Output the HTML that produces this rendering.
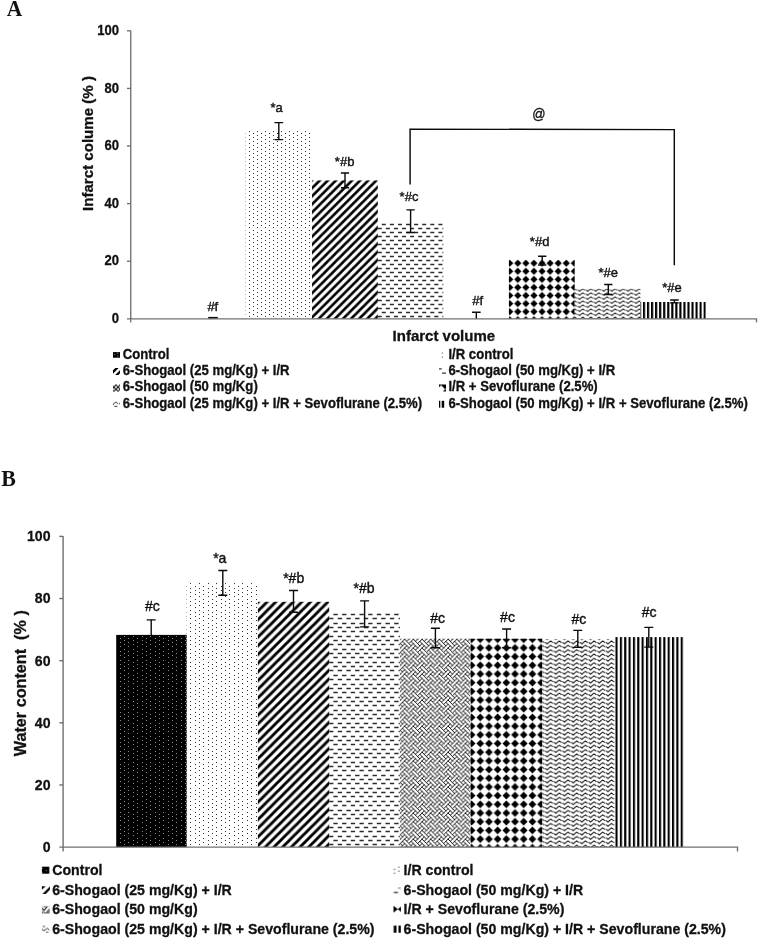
<!DOCTYPE html>
<html><head><meta charset="utf-8"><title>Figure</title>
<style>
html,body{margin:0;padding:0;background:#fff;}
svg{display:block;will-change:transform;}
text{fill:#111;}
</style></head>
<body>
<svg width="760" height="940" viewBox="0 0 760 940">
<defs>
<filter id="soft" x="-2%" y="-2%" width="104%" height="104%"><feGaussianBlur stdDeviation="0.45"/></filter>
<pattern id="adots" patternUnits="userSpaceOnUse" x="249.300" y="260.300" width="8.080" height="4.040" viewBox="0 0 8 4" preserveAspectRatio="none"><rect width="8" height="4" fill="#fff"/><circle cx="0" cy="0" r="0.58" fill="#000"/><circle cx="8" cy="0" r="0.58" fill="#000"/><circle cx="0" cy="4" r="0.58" fill="#000"/><circle cx="8" cy="4" r="0.58" fill="#000"/><circle cx="4" cy="2" r="0.58" fill="#000"/></pattern>
<pattern id="adiag" patternUnits="userSpaceOnUse" x="7.300" y="0.000" width="8.080" height="8.080" viewBox="0 0 8 8" preserveAspectRatio="none"><rect width="8" height="8" fill="#fff"/><path d="M-4 4L4 -4M-4 12L12 -4M4 12L12 4" stroke="#000" stroke-width="2.66" fill="none"/></pattern>
<pattern id="adash" patternUnits="userSpaceOnUse" x="381.800" y="223.100" width="8.080" height="8.080" viewBox="0 0 8 8" preserveAspectRatio="none"><rect width="8" height="8" fill="#fff"/><rect x="0" y="0" width="4" height="1.12" fill="#161616"/><rect x="4" y="4" width="4" height="1.12" fill="#161616"/></pattern>
<pattern id="aweave" patternUnits="userSpaceOnUse" x="0.000" y="0.000" width="8.080" height="8.080" viewBox="0 0 8 8" preserveAspectRatio="none"><rect width="8" height="8" fill="#fff"/><path d="M-3.5 -3.5L2.5 2.5M-3.5 4.5L2.5 10.5M4.5 -3.5L10.5 2.5M4.5 4.5L10.5 10.5M-5.5 -1.5L0.5 4.5M-5.5 6.5L0.5 12.5M2.5 -1.5L8.5 4.5M2.5 6.5L8.5 12.5M4.5 0.5L-1.5 6.5M4.5 8.5L-1.5 14.5M12.5 0.5L6.5 6.5M12.5 8.5L6.5 14.5M6.5 -5.5L0.5 0.5M6.5 2.5L0.5 8.5M14.5 -5.5L8.5 0.5M14.5 2.5L8.5 8.5" stroke="#000" stroke-width="0.84" stroke-linecap="square" fill="none"/></pattern>
<pattern id="admnd" patternUnits="userSpaceOnUse" x="513.760" y="259.160" width="8.080" height="8.080" viewBox="0 0 8 8" preserveAspectRatio="none"><rect width="8" height="8" fill="#fff"/><path d="M4 0.4500000000000002L7.55 4L4 7.55L0.4500000000000002 4Z" fill="#000"/></pattern>
<pattern id="awave" patternUnits="userSpaceOnUse" x="571.520" y="287.970" width="96.960" height="4.040" viewBox="0 0 96 4" preserveAspectRatio="none"><rect width="96" height="4" fill="#fff"/><path d="M-2.8 2.15L-1.5999999999999996 2.0M5.2 2.15L6.4 2.0M13.2 2.15L14.4 2.0M21.2 2.15L22.4 2.0M29.2 2.15L30.4 2.0M37.2 2.15L38.4 2.0M45.2 2.15L46.4 2.0M53.2 2.15L54.4 2.0M61.2 2.15L62.4 2.0M69.2 2.15L70.4 2.0M77.2 2.15L78.4 2.0M85.2 2.15L86.4 2.0M93.2 2.15L94.4 2.0M101.2 2.15L102.4 2.0" stroke="#9a9a9a" stroke-width="0.9" fill="none"/><path d="M-9.6 2.0L-8 3.4L-6.5 2.0L-4.8 0.7L-2.8 2.15M-1.6 2.0L0 3.4L1.5 2.0L3.2 0.7L5.2 2.15M6.4 2.0L8 3.4L9.5 2.0L11.2 0.7L13.2 2.15M14.4 2.0L16 3.4L17.5 2.0L19.2 0.7L21.2 2.15M22.4 2.0L24 3.4L25.5 2.0L27.2 0.7L29.2 2.15M30.4 2.0L32 3.4L33.5 2.0L35.2 0.7L37.2 2.15M38.4 2.0L40 3.4L41.5 2.0L43.2 0.7L45.2 2.15M46.4 2.0L48 3.4L49.5 2.0L51.2 0.7L53.2 2.15M54.4 2.0L56 3.4L57.5 2.0L59.2 0.7L61.2 2.15M62.4 2.0L64 3.4L65.5 2.0L67.2 0.7L69.2 2.15M70.4 2.0L72 3.4L73.5 2.0L75.2 0.7L77.2 2.15M78.4 2.0L80 3.4L81.5 2.0L83.2 0.7L85.2 2.15M86.4 2.0L88 3.4L89.5 2.0L91.2 0.7L93.2 2.15M94.4 2.0L96 3.4L97.5 2.0L99.2 0.7L101.2 2.15" stroke="#111" stroke-width="0.9" fill="none" stroke-linejoin="miter"/></pattern>
<pattern id="avert" patternUnits="userSpaceOnUse" x="643.000" y="0.000" width="4.040" height="8.080" viewBox="0 0 4 8" preserveAspectRatio="none"><rect width="4" height="8" fill="#fff"/><rect x="0" y="0" width="2.05" height="8" fill="#000"/></pattern>
<pattern id="ablk" patternUnits="userSpaceOnUse" x="0.000" y="0.000" width="8.080" height="4.040" viewBox="0 0 8 4" preserveAspectRatio="none"><rect width="8" height="4" fill="#000"/><circle cx="0" cy="0" r="0.62" fill="#9a9a9a"/><circle cx="8" cy="0" r="0.62" fill="#9a9a9a"/><circle cx="0" cy="4" r="0.62" fill="#9a9a9a"/><circle cx="8" cy="4" r="0.62" fill="#9a9a9a"/><circle cx="4" cy="2" r="0.62" fill="#9a9a9a"/></pattern>
<pattern id="bdots" patternUnits="userSpaceOnUse" x="190.840" y="583.950" width="8.690" height="4.345" viewBox="0 0 8 4" preserveAspectRatio="none"><rect width="8" height="4" fill="#fff"/><circle cx="0" cy="0" r="0.58" fill="#000"/><circle cx="8" cy="0" r="0.58" fill="#000"/><circle cx="0" cy="4" r="0.58" fill="#000"/><circle cx="8" cy="4" r="0.58" fill="#000"/><circle cx="4" cy="2" r="0.58" fill="#000"/></pattern>
<pattern id="bdiag" patternUnits="userSpaceOnUse" x="0.000" y="0.000" width="8.690" height="8.690" viewBox="0 0 8 8" preserveAspectRatio="none"><rect width="8" height="8" fill="#fff"/><path d="M-4 4L4 -4M-4 12L12 -4M4 12L12 4" stroke="#000" stroke-width="2.66" fill="none"/></pattern>
<pattern id="bdash" patternUnits="userSpaceOnUse" x="333.400" y="613.850" width="8.690" height="8.690" viewBox="0 0 8 8" preserveAspectRatio="none"><rect width="8" height="8" fill="#fff"/><rect x="0" y="0" width="4" height="1.12" fill="#161616"/><rect x="4" y="4" width="4" height="1.12" fill="#161616"/></pattern>
<pattern id="bweave" patternUnits="userSpaceOnUse" x="0.000" y="0.000" width="8.690" height="8.690" viewBox="0 0 8 8" preserveAspectRatio="none"><rect width="8" height="8" fill="#fff"/><path d="M-3.5 -3.5L2.5 2.5M-3.5 4.5L2.5 10.5M4.5 -3.5L10.5 2.5M4.5 4.5L10.5 10.5M-5.5 -1.5L0.5 4.5M-5.5 6.5L0.5 12.5M2.5 -1.5L8.5 4.5M2.5 6.5L8.5 12.5M4.5 0.5L-1.5 6.5M4.5 8.5L-1.5 14.5M12.5 0.5L6.5 6.5M12.5 8.5L6.5 14.5M6.5 -5.5L0.5 0.5M6.5 2.5L0.5 8.5M14.5 -5.5L8.5 0.5M14.5 2.5L8.5 8.5" stroke="#000" stroke-width="0.84" stroke-linecap="square" fill="none"/></pattern>
<pattern id="bdmnd" patternUnits="userSpaceOnUse" x="475.920" y="643.560" width="8.690" height="8.690" viewBox="0 0 8 8" preserveAspectRatio="none"><rect width="8" height="8" fill="#fff"/><path d="M4 0.4500000000000002L7.55 4L4 7.55L0.4500000000000002 4Z" fill="#000"/></pattern>
<pattern id="bwave" patternUnits="userSpaceOnUse" x="538.510" y="640.200" width="104.280" height="4.345" viewBox="0 0 96 4" preserveAspectRatio="none"><rect width="96" height="4" fill="#fff"/><path d="M-2.8 2.15L-1.5999999999999996 2.0M5.2 2.15L6.4 2.0M13.2 2.15L14.4 2.0M21.2 2.15L22.4 2.0M29.2 2.15L30.4 2.0M37.2 2.15L38.4 2.0M45.2 2.15L46.4 2.0M53.2 2.15L54.4 2.0M61.2 2.15L62.4 2.0M69.2 2.15L70.4 2.0M77.2 2.15L78.4 2.0M85.2 2.15L86.4 2.0M93.2 2.15L94.4 2.0M101.2 2.15L102.4 2.0" stroke="#9a9a9a" stroke-width="0.9" fill="none"/><path d="M-9.6 2.0L-8 3.4L-6.5 2.0L-4.8 0.7L-2.8 2.15M-1.6 2.0L0 3.4L1.5 2.0L3.2 0.7L5.2 2.15M6.4 2.0L8 3.4L9.5 2.0L11.2 0.7L13.2 2.15M14.4 2.0L16 3.4L17.5 2.0L19.2 0.7L21.2 2.15M22.4 2.0L24 3.4L25.5 2.0L27.2 0.7L29.2 2.15M30.4 2.0L32 3.4L33.5 2.0L35.2 0.7L37.2 2.15M38.4 2.0L40 3.4L41.5 2.0L43.2 0.7L45.2 2.15M46.4 2.0L48 3.4L49.5 2.0L51.2 0.7L53.2 2.15M54.4 2.0L56 3.4L57.5 2.0L59.2 0.7L61.2 2.15M62.4 2.0L64 3.4L65.5 2.0L67.2 0.7L69.2 2.15M70.4 2.0L72 3.4L73.5 2.0L75.2 0.7L77.2 2.15M78.4 2.0L80 3.4L81.5 2.0L83.2 0.7L85.2 2.15M86.4 2.0L88 3.4L89.5 2.0L91.2 0.7L93.2 2.15M94.4 2.0L96 3.4L97.5 2.0L99.2 0.7L101.2 2.15" stroke="#111" stroke-width="0.9" fill="none" stroke-linejoin="miter"/></pattern>
<pattern id="bvert" patternUnits="userSpaceOnUse" x="615.500" y="0.000" width="4.345" height="8.690" viewBox="0 0 4 8" preserveAspectRatio="none"><rect width="4" height="8" fill="#fff"/><rect x="0" y="0" width="1.95" height="8" fill="#000"/></pattern>
<pattern id="bblk" patternUnits="userSpaceOnUse" x="120.300" y="638.300" width="8.690" height="4.345" viewBox="0 0 8 4" preserveAspectRatio="none"><rect width="8" height="4" fill="#000"/><circle cx="0" cy="0" r="0.62" fill="#9a9a9a"/><circle cx="8" cy="0" r="0.62" fill="#9a9a9a"/><circle cx="0" cy="4" r="0.62" fill="#9a9a9a"/><circle cx="8" cy="4" r="0.62" fill="#9a9a9a"/><circle cx="4" cy="2" r="0.62" fill="#9a9a9a"/></pattern>
</defs>
<rect width="760" height="940" fill="#fff"/>
<text transform="translate(6.7 16.45) scale(0.935 1)" font-family="'Liberation Serif', sans-serif" font-size="23.0" font-weight="bold" text-anchor="start">A</text>
<path d="M249 131.5h1M257 131.5h1M265 131.5h1M273 131.5h1M281 131.5h1M289 131.5h1M297 131.5h1M305 131.5h1M249 135.5h1M257 135.5h1M265 135.5h1M273 135.5h1M281 135.5h1M289 135.5h1M297 135.5h1M305 135.5h1M249 139.5h1M257 139.5h1M265 139.5h1M273 139.5h1M281 139.5h1M289 139.5h1M297 139.5h1M305 139.5h1M249 143.5h1M257 143.5h1M265 143.5h1M273 143.5h1M281 143.5h1M289 143.5h1M297 143.5h1M305 143.5h1M249 147.5h1M257 147.5h1M265 147.5h1M273 147.5h1M281 147.5h1M289 147.5h1M297 147.5h1M305 147.5h1M249 151.5h1M257 151.5h1M265 151.5h1M273 151.5h1M281 151.5h1M289 151.5h1M297 151.5h1M305 151.5h1M249 155.5h1M257 155.5h1M265 155.5h1M273 155.5h1M281 155.5h1M289 155.5h1M297 155.5h1M305 155.5h1M249 159.5h1M257 159.5h1M265 159.5h1M273 159.5h1M281 159.5h1M289 159.5h1M297 159.5h1M305 159.5h1M249 163.5h1M257 163.5h1M265 163.5h1M273 163.5h1M281 163.5h1M289 163.5h1M297 163.5h1M305 163.5h1M249 167.5h1M257 167.5h1M265 167.5h1M273 167.5h1M281 167.5h1M289 167.5h1M297 167.5h1M305 167.5h1M249 171.5h1M257 171.5h1M265 171.5h1M273 171.5h1M281 171.5h1M289 171.5h1M297 171.5h1M305 171.5h1M249 175.5h1M257 175.5h1M265 175.5h1M273 175.5h1M281 175.5h1M289 175.5h1M297 175.5h1M305 175.5h1M249 179.5h1M257 179.5h1M265 179.5h1M273 179.5h1M281 179.5h1M289 179.5h1M297 179.5h1M305 179.5h1M249 183.5h1M257 183.5h1M265 183.5h1M273 183.5h1M281 183.5h1M289 183.5h1M297 183.5h1M305 183.5h1M249 187.5h1M257 187.5h1M265 187.5h1M273 187.5h1M281 187.5h1M289 187.5h1M297 187.5h1M305 187.5h1M249 191.5h1M257 191.5h1M265 191.5h1M273 191.5h1M281 191.5h1M289 191.5h1M297 191.5h1M305 191.5h1M249 195.5h1M257 195.5h1M265 195.5h1M273 195.5h1M281 195.5h1M289 195.5h1M297 195.5h1M305 195.5h1M249 199.5h1M257 199.5h1M265 199.5h1M273 199.5h1M281 199.5h1M289 199.5h1M297 199.5h1M305 199.5h1M249 203.5h1M257 203.5h1M265 203.5h1M273 203.5h1M281 203.5h1M289 203.5h1M297 203.5h1M305 203.5h1M249 207.5h1M257 207.5h1M265 207.5h1M273 207.5h1M281 207.5h1M289 207.5h1M297 207.5h1M305 207.5h1M249 211.5h1M257 211.5h1M265 211.5h1M273 211.5h1M281 211.5h1M289 211.5h1M297 211.5h1M305 211.5h1M249 215.5h1M257 215.5h1M265 215.5h1M273 215.5h1M281 215.5h1M289 215.5h1M297 215.5h1M305 215.5h1M249 219.5h1M257 219.5h1M265 219.5h1M273 219.5h1M281 219.5h1M289 219.5h1M297 219.5h1M305 219.5h1M249 223.5h1M257 223.5h1M265 223.5h1M273 223.5h1M281 223.5h1M289 223.5h1M297 223.5h1M305 223.5h1M249 227.5h1M257 227.5h1M265 227.5h1M273 227.5h1M281 227.5h1M289 227.5h1M297 227.5h1M305 227.5h1M249 232.5h1M257 232.5h1M265 232.5h1M273 232.5h1M281 232.5h1M289 232.5h1M297 232.5h1M305 232.5h1M249 236.5h1M257 236.5h1M265 236.5h1M273 236.5h1M281 236.5h1M289 236.5h1M297 236.5h1M305 236.5h1M249 240.5h1M257 240.5h1M265 240.5h1M273 240.5h1M281 240.5h1M289 240.5h1M297 240.5h1M305 240.5h1M249 244.5h1M257 244.5h1M265 244.5h1M273 244.5h1M281 244.5h1M289 244.5h1M297 244.5h1M305 244.5h1M249 248.5h1M257 248.5h1M265 248.5h1M273 248.5h1M281 248.5h1M289 248.5h1M297 248.5h1M305 248.5h1M249 252.5h1M257 252.5h1M265 252.5h1M273 252.5h1M281 252.5h1M289 252.5h1M297 252.5h1M305 252.5h1M249 256.5h1M257 256.5h1M265 256.5h1M273 256.5h1M281 256.5h1M289 256.5h1M297 256.5h1M305 256.5h1M249 260.5h1M257 260.5h1M265 260.5h1M273 260.5h1M281 260.5h1M289 260.5h1M297 260.5h1M305 260.5h1M249 264.5h1M257 264.5h1M265 264.5h1M273 264.5h1M281 264.5h1M289 264.5h1M297 264.5h1M305 264.5h1M249 268.5h1M257 268.5h1M265 268.5h1M273 268.5h1M281 268.5h1M289 268.5h1M297 268.5h1M305 268.5h1M249 272.5h1M257 272.5h1M265 272.5h1M273 272.5h1M281 272.5h1M289 272.5h1M297 272.5h1M305 272.5h1M249 276.5h1M257 276.5h1M265 276.5h1M273 276.5h1M281 276.5h1M289 276.5h1M297 276.5h1M305 276.5h1M249 280.5h1M257 280.5h1M265 280.5h1M273 280.5h1M281 280.5h1M289 280.5h1M297 280.5h1M305 280.5h1M249 284.5h1M257 284.5h1M265 284.5h1M273 284.5h1M281 284.5h1M289 284.5h1M297 284.5h1M305 284.5h1M249 288.5h1M257 288.5h1M265 288.5h1M273 288.5h1M281 288.5h1M289 288.5h1M297 288.5h1M305 288.5h1M249 292.5h1M257 292.5h1M265 292.5h1M273 292.5h1M281 292.5h1M289 292.5h1M297 292.5h1M305 292.5h1M249 296.5h1M257 296.5h1M265 296.5h1M273 296.5h1M281 296.5h1M289 296.5h1M297 296.5h1M305 296.5h1M249 300.5h1M257 300.5h1M265 300.5h1M273 300.5h1M281 300.5h1M289 300.5h1M297 300.5h1M305 300.5h1M249 304.5h1M257 304.5h1M265 304.5h1M273 304.5h1M281 304.5h1M289 304.5h1M297 304.5h1M305 304.5h1M249 308.5h1M257 308.5h1M265 308.5h1M273 308.5h1M281 308.5h1M289 308.5h1M297 308.5h1M305 308.5h1M249 312.5h1M257 312.5h1M265 312.5h1M273 312.5h1M281 312.5h1M289 312.5h1M297 312.5h1M305 312.5h1M249 316.5h1M257 316.5h1M265 316.5h1M273 316.5h1M281 316.5h1M289 316.5h1M297 316.5h1M305 316.5h1M253 133.5h1M261 133.5h1M269 133.5h1M277 133.5h1M285 133.5h1M293 133.5h1M301 133.5h1M309 133.5h1M253 137.5h1M261 137.5h1M269 137.5h1M277 137.5h1M285 137.5h1M293 137.5h1M301 137.5h1M309 137.5h1M253 141.5h1M261 141.5h1M269 141.5h1M277 141.5h1M285 141.5h1M293 141.5h1M301 141.5h1M309 141.5h1M253 145.5h1M261 145.5h1M269 145.5h1M277 145.5h1M285 145.5h1M293 145.5h1M301 145.5h1M309 145.5h1M253 149.5h1M261 149.5h1M269 149.5h1M277 149.5h1M285 149.5h1M293 149.5h1M301 149.5h1M309 149.5h1M253 153.5h1M261 153.5h1M269 153.5h1M277 153.5h1M285 153.5h1M293 153.5h1M301 153.5h1M309 153.5h1M253 157.5h1M261 157.5h1M269 157.5h1M277 157.5h1M285 157.5h1M293 157.5h1M301 157.5h1M309 157.5h1M253 161.5h1M261 161.5h1M269 161.5h1M277 161.5h1M285 161.5h1M293 161.5h1M301 161.5h1M309 161.5h1M253 165.5h1M261 165.5h1M269 165.5h1M277 165.5h1M285 165.5h1M293 165.5h1M301 165.5h1M309 165.5h1M253 169.5h1M261 169.5h1M269 169.5h1M277 169.5h1M285 169.5h1M293 169.5h1M301 169.5h1M309 169.5h1M253 173.5h1M261 173.5h1M269 173.5h1M277 173.5h1M285 173.5h1M293 173.5h1M301 173.5h1M309 173.5h1M253 177.5h1M261 177.5h1M269 177.5h1M277 177.5h1M285 177.5h1M293 177.5h1M301 177.5h1M309 177.5h1M253 181.5h1M261 181.5h1M269 181.5h1M277 181.5h1M285 181.5h1M293 181.5h1M301 181.5h1M309 181.5h1M253 185.5h1M261 185.5h1M269 185.5h1M277 185.5h1M285 185.5h1M293 185.5h1M301 185.5h1M309 185.5h1M253 189.5h1M261 189.5h1M269 189.5h1M277 189.5h1M285 189.5h1M293 189.5h1M301 189.5h1M309 189.5h1M253 193.5h1M261 193.5h1M269 193.5h1M277 193.5h1M285 193.5h1M293 193.5h1M301 193.5h1M309 193.5h1M253 197.5h1M261 197.5h1M269 197.5h1M277 197.5h1M285 197.5h1M293 197.5h1M301 197.5h1M309 197.5h1M253 201.5h1M261 201.5h1M269 201.5h1M277 201.5h1M285 201.5h1M293 201.5h1M301 201.5h1M309 201.5h1M253 205.5h1M261 205.5h1M269 205.5h1M277 205.5h1M285 205.5h1M293 205.5h1M301 205.5h1M309 205.5h1M253 209.5h1M261 209.5h1M269 209.5h1M277 209.5h1M285 209.5h1M293 209.5h1M301 209.5h1M309 209.5h1M253 213.5h1M261 213.5h1M269 213.5h1M277 213.5h1M285 213.5h1M293 213.5h1M301 213.5h1M309 213.5h1M253 217.5h1M261 217.5h1M269 217.5h1M277 217.5h1M285 217.5h1M293 217.5h1M301 217.5h1M309 217.5h1M253 221.5h1M261 221.5h1M269 221.5h1M277 221.5h1M285 221.5h1M293 221.5h1M301 221.5h1M309 221.5h1M253 225.5h1M261 225.5h1M269 225.5h1M277 225.5h1M285 225.5h1M293 225.5h1M301 225.5h1M309 225.5h1M253 230.5h1M261 230.5h1M269 230.5h1M277 230.5h1M285 230.5h1M293 230.5h1M301 230.5h1M309 230.5h1M253 234.5h1M261 234.5h1M269 234.5h1M277 234.5h1M285 234.5h1M293 234.5h1M301 234.5h1M309 234.5h1M253 238.5h1M261 238.5h1M269 238.5h1M277 238.5h1M285 238.5h1M293 238.5h1M301 238.5h1M309 238.5h1M253 242.5h1M261 242.5h1M269 242.5h1M277 242.5h1M285 242.5h1M293 242.5h1M301 242.5h1M309 242.5h1M253 246.5h1M261 246.5h1M269 246.5h1M277 246.5h1M285 246.5h1M293 246.5h1M301 246.5h1M309 246.5h1M253 250.5h1M261 250.5h1M269 250.5h1M277 250.5h1M285 250.5h1M293 250.5h1M301 250.5h1M309 250.5h1M253 254.5h1M261 254.5h1M269 254.5h1M277 254.5h1M285 254.5h1M293 254.5h1M301 254.5h1M309 254.5h1M253 258.5h1M261 258.5h1M269 258.5h1M277 258.5h1M285 258.5h1M293 258.5h1M301 258.5h1M309 258.5h1M253 262.5h1M261 262.5h1M269 262.5h1M277 262.5h1M285 262.5h1M293 262.5h1M301 262.5h1M309 262.5h1M253 266.5h1M261 266.5h1M269 266.5h1M277 266.5h1M285 266.5h1M293 266.5h1M301 266.5h1M309 266.5h1M253 270.5h1M261 270.5h1M269 270.5h1M277 270.5h1M285 270.5h1M293 270.5h1M301 270.5h1M309 270.5h1M253 274.5h1M261 274.5h1M269 274.5h1M277 274.5h1M285 274.5h1M293 274.5h1M301 274.5h1M309 274.5h1M253 278.5h1M261 278.5h1M269 278.5h1M277 278.5h1M285 278.5h1M293 278.5h1M301 278.5h1M309 278.5h1M253 282.5h1M261 282.5h1M269 282.5h1M277 282.5h1M285 282.5h1M293 282.5h1M301 282.5h1M309 282.5h1M253 286.5h1M261 286.5h1M269 286.5h1M277 286.5h1M285 286.5h1M293 286.5h1M301 286.5h1M309 286.5h1M253 290.5h1M261 290.5h1M269 290.5h1M277 290.5h1M285 290.5h1M293 290.5h1M301 290.5h1M309 290.5h1M253 294.5h1M261 294.5h1M269 294.5h1M277 294.5h1M285 294.5h1M293 294.5h1M301 294.5h1M309 294.5h1M253 298.5h1M261 298.5h1M269 298.5h1M277 298.5h1M285 298.5h1M293 298.5h1M301 298.5h1M309 298.5h1M253 302.5h1M261 302.5h1M269 302.5h1M277 302.5h1M285 302.5h1M293 302.5h1M301 302.5h1M309 302.5h1M253 306.5h1M261 306.5h1M269 306.5h1M277 306.5h1M285 306.5h1M293 306.5h1M301 306.5h1M309 306.5h1M253 310.5h1M261 310.5h1M269 310.5h1M277 310.5h1M285 310.5h1M293 310.5h1M301 310.5h1M309 310.5h1M253 314.5h1M261 314.5h1M269 314.5h1M277 314.5h1M285 314.5h1M293 314.5h1M301 314.5h1M309 314.5h1" stroke="#2e2e2e" stroke-width="1" fill="none" shape-rendering="crispEdges"/><path d="M245 133.5h1M245 137.5h1M245 141.5h1M245 145.5h1M245 149.5h1M245 153.5h1M245 157.5h1M245 161.5h1M245 165.5h1M245 169.5h1M245 173.5h1M245 177.5h1M245 181.5h1M245 185.5h1M245 189.5h1M245 193.5h1M245 197.5h1M245 201.5h1M245 205.5h1M245 209.5h1M245 213.5h1M245 217.5h1M245 221.5h1M245 225.5h1M245 230.5h1M245 234.5h1M245 238.5h1M245 242.5h1M245 246.5h1M245 250.5h1M245 254.5h1M245 258.5h1M245 262.5h1M245 266.5h1M245 270.5h1M245 274.5h1M245 278.5h1M245 282.5h1M245 286.5h1M245 290.5h1M245 294.5h1M245 298.5h1M245 302.5h1M245 306.5h1M245 310.5h1M245 314.5h1" stroke="#b4b4b4" stroke-width="1" fill="none" shape-rendering="crispEdges"/>
<rect x="312.00" y="180.4" width="65.80" height="138.45" fill="url(#adiag)"/>
<path d="M381.8 224.5H385.8M389.9 224.5H393.9M398.0 224.5H402.0M406.0 224.5H410.1M414.1 224.5H418.2M422.2 224.5H426.2M430.3 224.5H434.3M438.4 224.5H442.4M381.8 232.5H385.8M389.9 232.5H393.9M398.0 232.5H402.0M406.0 232.5H410.1M414.1 232.5H418.2M422.2 232.5H426.2M430.3 232.5H434.3M438.4 232.5H442.4M381.8 240.5H385.8M389.9 240.5H393.9M398.0 240.5H402.0M406.0 240.5H410.1M414.1 240.5H418.2M422.2 240.5H426.2M430.3 240.5H434.3M438.4 240.5H442.4M381.8 248.5H385.8M389.9 248.5H393.9M398.0 248.5H402.0M406.0 248.5H410.1M414.1 248.5H418.2M422.2 248.5H426.2M430.3 248.5H434.3M438.4 248.5H442.4M381.8 256.5H385.8M389.9 256.5H393.9M398.0 256.5H402.0M406.0 256.5H410.1M414.1 256.5H418.2M422.2 256.5H426.2M430.3 256.5H434.3M438.4 256.5H442.4M381.8 264.5H385.8M389.9 264.5H393.9M398.0 264.5H402.0M406.0 264.5H410.1M414.1 264.5H418.2M422.2 264.5H426.2M430.3 264.5H434.3M438.4 264.5H442.4M381.8 272.5H385.8M389.9 272.5H393.9M398.0 272.5H402.0M406.0 272.5H410.1M414.1 272.5H418.2M422.2 272.5H426.2M430.3 272.5H434.3M438.4 272.5H442.4M381.8 280.5H385.8M389.9 280.5H393.9M398.0 280.5H402.0M406.0 280.5H410.1M414.1 280.5H418.2M422.2 280.5H426.2M430.3 280.5H434.3M438.4 280.5H442.4M381.8 288.5H385.8M389.9 288.5H393.9M398.0 288.5H402.0M406.0 288.5H410.1M414.1 288.5H418.2M422.2 288.5H426.2M430.3 288.5H434.3M438.4 288.5H442.4M381.8 296.5H385.8M389.9 296.5H393.9M398.0 296.5H402.0M406.0 296.5H410.1M414.1 296.5H418.2M422.2 296.5H426.2M430.3 296.5H434.3M438.4 296.5H442.4M381.8 304.5H385.8M389.9 304.5H393.9M398.0 304.5H402.0M406.0 304.5H410.1M414.1 304.5H418.2M422.2 304.5H426.2M430.3 304.5H434.3M438.4 304.5H442.4M381.8 312.5H385.8M389.9 312.5H393.9M398.0 312.5H402.0M406.0 312.5H410.1M414.1 312.5H418.2M422.2 312.5H426.2M430.3 312.5H434.3M438.4 312.5H442.4M377.8 228.5H381.8M385.8 228.5H389.9M393.9 228.5H398.0M402.0 228.5H406.0M410.1 228.5H414.1M418.2 228.5H422.2M426.2 228.5H430.3M434.3 228.5H438.4M442.4 228.5H443.3M377.8 236.5H381.8M385.8 236.5H389.9M393.9 236.5H398.0M402.0 236.5H406.0M410.1 236.5H414.1M418.2 236.5H422.2M426.2 236.5H430.3M434.3 236.5H438.4M442.4 236.5H443.3M377.8 244.5H381.8M385.8 244.5H389.9M393.9 244.5H398.0M402.0 244.5H406.0M410.1 244.5H414.1M418.2 244.5H422.2M426.2 244.5H430.3M434.3 244.5H438.4M442.4 244.5H443.3M377.8 252.5H381.8M385.8 252.5H389.9M393.9 252.5H398.0M402.0 252.5H406.0M410.1 252.5H414.1M418.2 252.5H422.2M426.2 252.5H430.3M434.3 252.5H438.4M442.4 252.5H443.3M377.8 260.5H381.8M385.8 260.5H389.9M393.9 260.5H398.0M402.0 260.5H406.0M410.1 260.5H414.1M418.2 260.5H422.2M426.2 260.5H430.3M434.3 260.5H438.4M442.4 260.5H443.3M377.8 268.5H381.8M385.8 268.5H389.9M393.9 268.5H398.0M402.0 268.5H406.0M410.1 268.5H414.1M418.2 268.5H422.2M426.2 268.5H430.3M434.3 268.5H438.4M442.4 268.5H443.3M377.8 276.5H381.8M385.8 276.5H389.9M393.9 276.5H398.0M402.0 276.5H406.0M410.1 276.5H414.1M418.2 276.5H422.2M426.2 276.5H430.3M434.3 276.5H438.4M442.4 276.5H443.3M377.8 284.5H381.8M385.8 284.5H389.9M393.9 284.5H398.0M402.0 284.5H406.0M410.1 284.5H414.1M418.2 284.5H422.2M426.2 284.5H430.3M434.3 284.5H438.4M442.4 284.5H443.3M377.8 292.5H381.8M385.8 292.5H389.9M393.9 292.5H398.0M402.0 292.5H406.0M410.1 292.5H414.1M418.2 292.5H422.2M426.2 292.5H430.3M434.3 292.5H438.4M442.4 292.5H443.3M377.8 300.5H381.8M385.8 300.5H389.9M393.9 300.5H398.0M402.0 300.5H406.0M410.1 300.5H414.1M418.2 300.5H422.2M426.2 300.5H430.3M434.3 300.5H438.4M442.4 300.5H443.3M377.8 308.5H381.8M385.8 308.5H389.9M393.9 308.5H398.0M402.0 308.5H406.0M410.1 308.5H414.1M418.2 308.5H422.2M426.2 308.5H430.3M434.3 308.5H438.4M442.4 308.5H443.3M377.8 316.5H381.8M385.8 316.5H389.9M393.9 316.5H398.0M402.0 316.5H406.0M410.1 316.5H414.1M418.2 316.5H422.2M426.2 316.5H430.3M434.3 316.5H438.4M442.4 316.5H443.3" stroke="#2c2c2c" stroke-width="1.45" fill="none"/>
<rect x="508.90" y="259.8" width="65.80" height="59.05" fill="url(#admnd)" filter="url(#soft)"/>
<rect x="574.70" y="288.8" width="65.70" height="30.05" fill="url(#awave)"/>
<rect x="640.40" y="302.0" width="65.50" height="16.85" fill="url(#avert)"/>
<path d="M130.75 30.5V322.45000000000005M126.95 318.85H756.5V322.25" stroke="#707070" stroke-width="1.35" fill="none"/>
<text transform="translate(119.0 323.10) scale(0.94 1)" font-family="'Liberation Sans', sans-serif" font-size="13.9" font-weight="bold" text-anchor="end" stroke="#111" stroke-width="0.3">0</text>
<path d="M126.95 261.24H130.75" stroke="#707070" stroke-width="1.35"/>
<text transform="translate(119.0 265.49) scale(0.94 1)" font-family="'Liberation Sans', sans-serif" font-size="13.9" font-weight="bold" text-anchor="end" stroke="#111" stroke-width="0.3">20</text>
<path d="M126.95 203.63H130.75" stroke="#707070" stroke-width="1.35"/>
<text transform="translate(119.0 207.88) scale(0.94 1)" font-family="'Liberation Sans', sans-serif" font-size="13.9" font-weight="bold" text-anchor="end" stroke="#111" stroke-width="0.3">40</text>
<path d="M126.95 146.02H130.75" stroke="#707070" stroke-width="1.35"/>
<text transform="translate(119.0 150.27) scale(0.94 1)" font-family="'Liberation Sans', sans-serif" font-size="13.9" font-weight="bold" text-anchor="end" stroke="#111" stroke-width="0.3">60</text>
<path d="M126.95 88.41H130.75" stroke="#707070" stroke-width="1.35"/>
<text transform="translate(119.0 92.66) scale(0.94 1)" font-family="'Liberation Sans', sans-serif" font-size="13.9" font-weight="bold" text-anchor="end" stroke="#111" stroke-width="0.3">80</text>
<path d="M126.95 30.80H130.75" stroke="#707070" stroke-width="1.35"/>
<text transform="translate(119.0 35.05) scale(0.94 1)" font-family="'Liberation Sans', sans-serif" font-size="13.9" font-weight="bold" text-anchor="end" stroke="#111" stroke-width="0.3">100</text>
<text transform="translate(93.3 143.5) rotate(-90)" font-family="'Liberation Sans', sans-serif" font-size="15.1" font-weight="bold" text-anchor="middle" stroke="#111" stroke-width="0.3">Infarct colume (% )</text>
<path d="M213.0 317.6V317.6M208.2 317.6H217.8" stroke="#0a0a0a" stroke-width="1.4" fill="none"/>
<path d="M278.8 122.6V139.6M274.45 122.6H283.15000000000003M274.45 139.6H283.15000000000003" stroke="#0a0a0a" stroke-width="1.4" fill="none"/>
<path d="M345.0 173.05V187.7M340.9 173.05H349.1M340.9 187.7H349.1" stroke="#0a0a0a" stroke-width="1.4" fill="none"/>
<path d="M410.6 209.9V232.5M406.45000000000005 209.9H414.75M406.45000000000005 232.5H414.75" stroke="#0a0a0a" stroke-width="1.4" fill="none"/>
<path d="M476.3 312.2V318.5M471.95 312.2H480.65000000000003" stroke="#0a0a0a" stroke-width="1.4" fill="none"/>
<path d="M542.2 256.3V265.0M538.0500000000001 256.3H546.35M538.0500000000001 265.0H546.35" stroke="#0a0a0a" stroke-width="1.4" fill="none"/>
<path d="M608.3 284.5V294.5M604.15 284.5H612.4499999999999M604.15 294.5H612.4499999999999" stroke="#0a0a0a" stroke-width="1.4" fill="none"/>
<path d="M674.4 300.0V302.9M670.05 300.0H678.75M670.05 302.9H678.75" stroke="#0a0a0a" stroke-width="1.4" fill="none"/>
<text transform="translate(212.8 311.15) scale(0.985 1)" font-family="'Liberation Sans', sans-serif" font-size="13.2" font-weight="normal" text-anchor="middle" stroke="#111" stroke-width="0.4">#f</text>
<text transform="translate(276.6 112.4) scale(0.985 1)" font-family="'Liberation Sans', sans-serif" font-size="13.2" font-weight="normal" text-anchor="middle" stroke="#111" stroke-width="0.4">*a</text>
<text transform="translate(344.6 165.7) scale(0.985 1)" font-family="'Liberation Sans', sans-serif" font-size="13.2" font-weight="normal" text-anchor="middle" stroke="#111" stroke-width="0.4">*#b</text>
<text transform="translate(409.0 200.8) scale(0.985 1)" font-family="'Liberation Sans', sans-serif" font-size="13.2" font-weight="normal" text-anchor="middle" stroke="#111" stroke-width="0.4">*#c</text>
<text transform="translate(477.6 304.9) scale(0.985 1)" font-family="'Liberation Sans', sans-serif" font-size="13.2" font-weight="normal" text-anchor="middle" stroke="#111" stroke-width="0.4">#f</text>
<text transform="translate(539.6 245.5) scale(0.985 1)" font-family="'Liberation Sans', sans-serif" font-size="13.2" font-weight="normal" text-anchor="middle" stroke="#111" stroke-width="0.4">*#d</text>
<text transform="translate(608.2 277.4) scale(0.985 1)" font-family="'Liberation Sans', sans-serif" font-size="13.2" font-weight="normal" text-anchor="middle" stroke="#111" stroke-width="0.4">*#e</text>
<text transform="translate(672.0 291.7) scale(0.985 1)" font-family="'Liberation Sans', sans-serif" font-size="13.2" font-weight="normal" text-anchor="middle" stroke="#111" stroke-width="0.4">*#e</text>
<path d="M410.1 184.5V129.2L674.3 129.6V265.3" stroke="#0a0a0a" stroke-width="1.45" fill="none"/>
<text transform="translate(538.8 119.0) scale(0.95 1)" font-family="'Liberation Sans', sans-serif" font-size="13.8" font-weight="normal" text-anchor="middle" stroke="#111" stroke-width="0.35">@</text>
<text x="392.6" y="340.6" font-family="'Liberation Sans', sans-serif" font-size="15" font-weight="bold" text-anchor="start" stroke="#111" stroke-width="0.3">Infarct volume</text>
<svg x="113.00" y="352.10" width="7.00" height="5.70" viewBox="0 0 7.00 5.70" overflow="hidden"><rect width="7.0" height="5.7" fill="#000"/><rect x="1.15" y="1.85" width="1.1" height="1.1" fill="#8c8c8c"/><rect x="4.25" y="0.65" width="1.1" height="1.1" fill="#8c8c8c"/><rect x="4.25" y="3.45" width="1.1" height="1.1" fill="#8c8c8c"/></svg>
<text transform="translate(122.7 358.5) scale(0.953 1)" font-family="'Liberation Sans', sans-serif" font-size="13.8" font-weight="bold" text-anchor="start" stroke="#111" stroke-width="0.3">Control</text>
<svg x="439.00" y="351.60" width="7.00" height="6.90" viewBox="0 0 7.00 6.90" overflow="hidden"><rect x="2.80" y="0.80" width="1.2" height="1.2" fill="#6a6a6a"/><rect x="2.80" y="4.90" width="1.2" height="1.2" fill="#6a6a6a"/></svg>
<text transform="translate(448.4 358.5) scale(0.953 1)" font-family="'Liberation Sans', sans-serif" font-size="13.8" font-weight="bold" text-anchor="start" stroke="#111" stroke-width="0.3">I/R control</text>
<svg x="113.00" y="368.00" width="7.00" height="6.90" viewBox="0 0 7.00 6.90" overflow="hidden"><path d="M-2 6.0L6.0 -2" stroke="#000" stroke-width="2.3"/><path d="M2 8.7L9 1.7" stroke="#000" stroke-width="2.3"/></svg>
<text transform="translate(122.7 374.9) scale(0.953 1)" font-family="'Liberation Sans', sans-serif" font-size="13.8" font-weight="bold" text-anchor="start" stroke="#111" stroke-width="0.3">6-Shogaol (25 mg/Kg) + I/R</text>
<svg x="439.00" y="368.00" width="7.00" height="6.90" viewBox="0 0 7.00 6.90" overflow="hidden"><rect x="0" y="0.3" width="2.8" height="1.2" fill="#333"/><rect x="3.0" y="4.5" width="4.0" height="1.2" fill="#333"/></svg>
<text transform="translate(448.4 374.9) scale(0.953 1)" font-family="'Liberation Sans', sans-serif" font-size="13.8" font-weight="bold" text-anchor="start" stroke="#111" stroke-width="0.3">6-Shogaol (50 mg/Kg) + I/R</text>
<svg x="113.00" y="384.50" width="7.00" height="6.90" viewBox="0 0 7.00 6.90" overflow="hidden"><path d="M-11.950000000000001 -2L0.049999999999998934 10M-6.950000000000001 -2L-18.950000000000003 10M-7.800000000000001 -2L4.199999999999999 10M-2.8000000000000007 -2L-14.8 10M-3.6500000000000004 -2L8.35 10M1.3499999999999996 -2L-10.65 10M0.5 -2L12.5 10M5.5 -2L-6.5 10M4.65 -2L16.65 10M9.65 -2L-2.3499999999999996 10M8.8 -2L20.8 10M13.8 -2L1.8000000000000007 10M12.950000000000001 -2L24.950000000000003 10M17.950000000000003 -2L5.950000000000001 10" stroke="#2a2a2a" stroke-width="1.05" fill="none"/><circle cx="3.0" cy="0.5" r="0.75" fill="#111"/><circle cx="7.1" cy="0.5" r="0.75" fill="#111"/><circle cx="0.9" cy="2.6" r="0.75" fill="#111"/><circle cx="5.0" cy="2.6" r="0.75" fill="#111"/><circle cx="3.0" cy="4.6" r="0.75" fill="#111"/><circle cx="7.1" cy="4.6" r="0.75" fill="#111"/><circle cx="0.9" cy="6.7" r="0.75" fill="#111"/><circle cx="5.0" cy="6.7" r="0.75" fill="#111"/></svg>
<text transform="translate(122.7 391.4) scale(0.953 1)" font-family="'Liberation Sans', sans-serif" font-size="13.8" font-weight="bold" text-anchor="start" stroke="#111" stroke-width="0.3">6-Shogaol (50 mg/Kg)</text>
<svg x="439.00" y="384.50" width="7.00" height="6.90" viewBox="0 0 7.00 6.90" overflow="hidden"><rect width="7.0" height="6.9" fill="#000"/><path d="M2.1 0.6500000000000004L6.15 4.7L2.1 8.75L-1.9499999999999997 4.7Z" fill="#fff"/><path d="M10.2 0.6500000000000004L14.249999999999998 4.7L10.2 8.75L6.15 4.7Z" fill="#fff"/></svg>
<text transform="translate(448.4 391.4) scale(0.953 1)" font-family="'Liberation Sans', sans-serif" font-size="13.8" font-weight="bold" text-anchor="start" stroke="#111" stroke-width="0.3">I/R + Sevoflurane (2.5%)</text>
<svg x="113.00" y="400.80" width="7.00" height="6.90" viewBox="0 0 7.00 6.90" overflow="hidden"><path d="M0.1 3.9Q1.4 1.2 3.0 1.25Q4.0 1.4 4.7 2.9" stroke="#333" stroke-width="0.95" fill="none" stroke-linecap="round"/><circle cx="6.5" cy="2.7" r="0.6" fill="#333"/><path d="M1.8 5.55H3.9" stroke="#222" stroke-width="1.0" stroke-linecap="round"/></svg>
<text transform="translate(122.7 407.7) scale(0.953 1)" font-family="'Liberation Sans', sans-serif" font-size="13.8" font-weight="bold" text-anchor="start" stroke="#111" stroke-width="0.3">6-Shogaol (25 mg/Kg) + I/R + Sevoflurane (2.5%)</text>
<svg x="439.00" y="400.80" width="7.00" height="6.90" viewBox="0 0 7.00 6.90" overflow="hidden"><rect x="0" y="0" width="1.3" height="6.9" fill="#000"/><rect x="2.7" y="0" width="2.5" height="6.9" fill="#000"/></svg>
<text transform="translate(448.4 407.7) scale(0.953 1)" font-family="'Liberation Sans', sans-serif" font-size="13.8" font-weight="bold" text-anchor="start" stroke="#111" stroke-width="0.3">6-Shogaol (50 mg/Kg) + I/R + Sevoflurane (2.5%)</text>
<text transform="translate(1.25 485.75) scale(0.93 1)" font-family="'Liberation Serif', sans-serif" font-size="23.6" font-weight="bold" text-anchor="start">B</text>
<rect x="116.20" y="634.9" width="70.50" height="212.20" fill="#000"/>
<path d="M120 638.5h1M128 638.5h1M137 638.5h1M146 638.5h1M155 638.5h1M163 638.5h1M172 638.5h1M181 638.5h1M120 642.5h1M128 642.5h1M137 642.5h1M146 642.5h1M155 642.5h1M163 642.5h1M172 642.5h1M181 642.5h1M120 646.5h1M128 646.5h1M137 646.5h1M146 646.5h1M155 646.5h1M163 646.5h1M172 646.5h1M181 646.5h1M120 651.5h1M128 651.5h1M137 651.5h1M146 651.5h1M155 651.5h1M163 651.5h1M172 651.5h1M181 651.5h1M120 655.5h1M128 655.5h1M137 655.5h1M146 655.5h1M155 655.5h1M163 655.5h1M172 655.5h1M181 655.5h1M120 660.5h1M128 660.5h1M137 660.5h1M146 660.5h1M155 660.5h1M163 660.5h1M172 660.5h1M181 660.5h1M120 664.5h1M128 664.5h1M137 664.5h1M146 664.5h1M155 664.5h1M163 664.5h1M172 664.5h1M181 664.5h1M120 668.5h1M128 668.5h1M137 668.5h1M146 668.5h1M155 668.5h1M163 668.5h1M172 668.5h1M181 668.5h1M120 673.5h1M128 673.5h1M137 673.5h1M146 673.5h1M155 673.5h1M163 673.5h1M172 673.5h1M181 673.5h1M120 677.5h1M128 677.5h1M137 677.5h1M146 677.5h1M155 677.5h1M163 677.5h1M172 677.5h1M181 677.5h1M120 681.5h1M128 681.5h1M137 681.5h1M146 681.5h1M155 681.5h1M163 681.5h1M172 681.5h1M181 681.5h1M120 686.5h1M128 686.5h1M137 686.5h1M146 686.5h1M155 686.5h1M163 686.5h1M172 686.5h1M181 686.5h1M120 690.5h1M128 690.5h1M137 690.5h1M146 690.5h1M155 690.5h1M163 690.5h1M172 690.5h1M181 690.5h1M120 694.5h1M128 694.5h1M137 694.5h1M146 694.5h1M155 694.5h1M163 694.5h1M172 694.5h1M181 694.5h1M120 699.5h1M128 699.5h1M137 699.5h1M146 699.5h1M155 699.5h1M163 699.5h1M172 699.5h1M181 699.5h1M120 703.5h1M128 703.5h1M137 703.5h1M146 703.5h1M155 703.5h1M163 703.5h1M172 703.5h1M181 703.5h1M120 707.5h1M128 707.5h1M137 707.5h1M146 707.5h1M155 707.5h1M163 707.5h1M172 707.5h1M181 707.5h1M120 712.5h1M128 712.5h1M137 712.5h1M146 712.5h1M155 712.5h1M163 712.5h1M172 712.5h1M181 712.5h1M120 716.5h1M128 716.5h1M137 716.5h1M146 716.5h1M155 716.5h1M163 716.5h1M172 716.5h1M181 716.5h1M120 720.5h1M128 720.5h1M137 720.5h1M146 720.5h1M155 720.5h1M163 720.5h1M172 720.5h1M181 720.5h1M120 725.5h1M128 725.5h1M137 725.5h1M146 725.5h1M155 725.5h1M163 725.5h1M172 725.5h1M181 725.5h1M120 729.5h1M128 729.5h1M137 729.5h1M146 729.5h1M155 729.5h1M163 729.5h1M172 729.5h1M181 729.5h1M120 733.5h1M128 733.5h1M137 733.5h1M146 733.5h1M155 733.5h1M163 733.5h1M172 733.5h1M181 733.5h1M120 738.5h1M128 738.5h1M137 738.5h1M146 738.5h1M155 738.5h1M163 738.5h1M172 738.5h1M181 738.5h1M120 742.5h1M128 742.5h1M137 742.5h1M146 742.5h1M155 742.5h1M163 742.5h1M172 742.5h1M181 742.5h1M120 746.5h1M128 746.5h1M137 746.5h1M146 746.5h1M155 746.5h1M163 746.5h1M172 746.5h1M181 746.5h1M120 751.5h1M128 751.5h1M137 751.5h1M146 751.5h1M155 751.5h1M163 751.5h1M172 751.5h1M181 751.5h1M120 755.5h1M128 755.5h1M137 755.5h1M146 755.5h1M155 755.5h1M163 755.5h1M172 755.5h1M181 755.5h1M120 759.5h1M128 759.5h1M137 759.5h1M146 759.5h1M155 759.5h1M163 759.5h1M172 759.5h1M181 759.5h1M120 764.5h1M128 764.5h1M137 764.5h1M146 764.5h1M155 764.5h1M163 764.5h1M172 764.5h1M181 764.5h1M120 768.5h1M128 768.5h1M137 768.5h1M146 768.5h1M155 768.5h1M163 768.5h1M172 768.5h1M181 768.5h1M120 772.5h1M128 772.5h1M137 772.5h1M146 772.5h1M155 772.5h1M163 772.5h1M172 772.5h1M181 772.5h1M120 777.5h1M128 777.5h1M137 777.5h1M146 777.5h1M155 777.5h1M163 777.5h1M172 777.5h1M181 777.5h1M120 781.5h1M128 781.5h1M137 781.5h1M146 781.5h1M155 781.5h1M163 781.5h1M172 781.5h1M181 781.5h1M120 786.5h1M128 786.5h1M137 786.5h1M146 786.5h1M155 786.5h1M163 786.5h1M172 786.5h1M181 786.5h1M120 790.5h1M128 790.5h1M137 790.5h1M146 790.5h1M155 790.5h1M163 790.5h1M172 790.5h1M181 790.5h1M120 794.5h1M128 794.5h1M137 794.5h1M146 794.5h1M155 794.5h1M163 794.5h1M172 794.5h1M181 794.5h1M120 799.5h1M128 799.5h1M137 799.5h1M146 799.5h1M155 799.5h1M163 799.5h1M172 799.5h1M181 799.5h1M120 803.5h1M128 803.5h1M137 803.5h1M146 803.5h1M155 803.5h1M163 803.5h1M172 803.5h1M181 803.5h1M120 807.5h1M128 807.5h1M137 807.5h1M146 807.5h1M155 807.5h1M163 807.5h1M172 807.5h1M181 807.5h1M120 812.5h1M128 812.5h1M137 812.5h1M146 812.5h1M155 812.5h1M163 812.5h1M172 812.5h1M181 812.5h1M120 816.5h1M128 816.5h1M137 816.5h1M146 816.5h1M155 816.5h1M163 816.5h1M172 816.5h1M181 816.5h1M120 820.5h1M128 820.5h1M137 820.5h1M146 820.5h1M155 820.5h1M163 820.5h1M172 820.5h1M181 820.5h1M120 825.5h1M128 825.5h1M137 825.5h1M146 825.5h1M155 825.5h1M163 825.5h1M172 825.5h1M181 825.5h1M120 829.5h1M128 829.5h1M137 829.5h1M146 829.5h1M155 829.5h1M163 829.5h1M172 829.5h1M181 829.5h1M120 833.5h1M128 833.5h1M137 833.5h1M146 833.5h1M155 833.5h1M163 833.5h1M172 833.5h1M181 833.5h1M120 838.5h1M128 838.5h1M137 838.5h1M146 838.5h1M155 838.5h1M163 838.5h1M172 838.5h1M181 838.5h1M120 842.5h1M128 842.5h1M137 842.5h1M146 842.5h1M155 842.5h1M163 842.5h1M172 842.5h1M181 842.5h1M124 636.5h1M133 636.5h1M142 636.5h1M150 636.5h1M159 636.5h1M168 636.5h1M176 636.5h1M185 636.5h1M124 640.5h1M133 640.5h1M142 640.5h1M150 640.5h1M159 640.5h1M168 640.5h1M176 640.5h1M185 640.5h1M124 644.5h1M133 644.5h1M142 644.5h1M150 644.5h1M159 644.5h1M168 644.5h1M176 644.5h1M185 644.5h1M124 649.5h1M133 649.5h1M142 649.5h1M150 649.5h1M159 649.5h1M168 649.5h1M176 649.5h1M185 649.5h1M124 653.5h1M133 653.5h1M142 653.5h1M150 653.5h1M159 653.5h1M168 653.5h1M176 653.5h1M185 653.5h1M124 657.5h1M133 657.5h1M142 657.5h1M150 657.5h1M159 657.5h1M168 657.5h1M176 657.5h1M185 657.5h1M124 662.5h1M133 662.5h1M142 662.5h1M150 662.5h1M159 662.5h1M168 662.5h1M176 662.5h1M185 662.5h1M124 666.5h1M133 666.5h1M142 666.5h1M150 666.5h1M159 666.5h1M168 666.5h1M176 666.5h1M185 666.5h1M124 670.5h1M133 670.5h1M142 670.5h1M150 670.5h1M159 670.5h1M168 670.5h1M176 670.5h1M185 670.5h1M124 675.5h1M133 675.5h1M142 675.5h1M150 675.5h1M159 675.5h1M168 675.5h1M176 675.5h1M185 675.5h1M124 679.5h1M133 679.5h1M142 679.5h1M150 679.5h1M159 679.5h1M168 679.5h1M176 679.5h1M185 679.5h1M124 683.5h1M133 683.5h1M142 683.5h1M150 683.5h1M159 683.5h1M168 683.5h1M176 683.5h1M185 683.5h1M124 688.5h1M133 688.5h1M142 688.5h1M150 688.5h1M159 688.5h1M168 688.5h1M176 688.5h1M185 688.5h1M124 692.5h1M133 692.5h1M142 692.5h1M150 692.5h1M159 692.5h1M168 692.5h1M176 692.5h1M185 692.5h1M124 696.5h1M133 696.5h1M142 696.5h1M150 696.5h1M159 696.5h1M168 696.5h1M176 696.5h1M185 696.5h1M124 701.5h1M133 701.5h1M142 701.5h1M150 701.5h1M159 701.5h1M168 701.5h1M176 701.5h1M185 701.5h1M124 705.5h1M133 705.5h1M142 705.5h1M150 705.5h1M159 705.5h1M168 705.5h1M176 705.5h1M185 705.5h1M124 709.5h1M133 709.5h1M142 709.5h1M150 709.5h1M159 709.5h1M168 709.5h1M176 709.5h1M185 709.5h1M124 714.5h1M133 714.5h1M142 714.5h1M150 714.5h1M159 714.5h1M168 714.5h1M176 714.5h1M185 714.5h1M124 718.5h1M133 718.5h1M142 718.5h1M150 718.5h1M159 718.5h1M168 718.5h1M176 718.5h1M185 718.5h1M124 723.5h1M133 723.5h1M142 723.5h1M150 723.5h1M159 723.5h1M168 723.5h1M176 723.5h1M185 723.5h1M124 727.5h1M133 727.5h1M142 727.5h1M150 727.5h1M159 727.5h1M168 727.5h1M176 727.5h1M185 727.5h1M124 731.5h1M133 731.5h1M142 731.5h1M150 731.5h1M159 731.5h1M168 731.5h1M176 731.5h1M185 731.5h1M124 736.5h1M133 736.5h1M142 736.5h1M150 736.5h1M159 736.5h1M168 736.5h1M176 736.5h1M185 736.5h1M124 740.5h1M133 740.5h1M142 740.5h1M150 740.5h1M159 740.5h1M168 740.5h1M176 740.5h1M185 740.5h1M124 744.5h1M133 744.5h1M142 744.5h1M150 744.5h1M159 744.5h1M168 744.5h1M176 744.5h1M185 744.5h1M124 749.5h1M133 749.5h1M142 749.5h1M150 749.5h1M159 749.5h1M168 749.5h1M176 749.5h1M185 749.5h1M124 753.5h1M133 753.5h1M142 753.5h1M150 753.5h1M159 753.5h1M168 753.5h1M176 753.5h1M185 753.5h1M124 757.5h1M133 757.5h1M142 757.5h1M150 757.5h1M159 757.5h1M168 757.5h1M176 757.5h1M185 757.5h1M124 762.5h1M133 762.5h1M142 762.5h1M150 762.5h1M159 762.5h1M168 762.5h1M176 762.5h1M185 762.5h1M124 766.5h1M133 766.5h1M142 766.5h1M150 766.5h1M159 766.5h1M168 766.5h1M176 766.5h1M185 766.5h1M124 770.5h1M133 770.5h1M142 770.5h1M150 770.5h1M159 770.5h1M168 770.5h1M176 770.5h1M185 770.5h1M124 775.5h1M133 775.5h1M142 775.5h1M150 775.5h1M159 775.5h1M168 775.5h1M176 775.5h1M185 775.5h1M124 779.5h1M133 779.5h1M142 779.5h1M150 779.5h1M159 779.5h1M168 779.5h1M176 779.5h1M185 779.5h1M124 783.5h1M133 783.5h1M142 783.5h1M150 783.5h1M159 783.5h1M168 783.5h1M176 783.5h1M185 783.5h1M124 788.5h1M133 788.5h1M142 788.5h1M150 788.5h1M159 788.5h1M168 788.5h1M176 788.5h1M185 788.5h1M124 792.5h1M133 792.5h1M142 792.5h1M150 792.5h1M159 792.5h1M168 792.5h1M176 792.5h1M185 792.5h1M124 796.5h1M133 796.5h1M142 796.5h1M150 796.5h1M159 796.5h1M168 796.5h1M176 796.5h1M185 796.5h1M124 801.5h1M133 801.5h1M142 801.5h1M150 801.5h1M159 801.5h1M168 801.5h1M176 801.5h1M185 801.5h1M124 805.5h1M133 805.5h1M142 805.5h1M150 805.5h1M159 805.5h1M168 805.5h1M176 805.5h1M185 805.5h1M124 809.5h1M133 809.5h1M142 809.5h1M150 809.5h1M159 809.5h1M168 809.5h1M176 809.5h1M185 809.5h1M124 814.5h1M133 814.5h1M142 814.5h1M150 814.5h1M159 814.5h1M168 814.5h1M176 814.5h1M185 814.5h1M124 818.5h1M133 818.5h1M142 818.5h1M150 818.5h1M159 818.5h1M168 818.5h1M176 818.5h1M185 818.5h1M124 822.5h1M133 822.5h1M142 822.5h1M150 822.5h1M159 822.5h1M168 822.5h1M176 822.5h1M185 822.5h1M124 827.5h1M133 827.5h1M142 827.5h1M150 827.5h1M159 827.5h1M168 827.5h1M176 827.5h1M185 827.5h1M124 831.5h1M133 831.5h1M142 831.5h1M150 831.5h1M159 831.5h1M168 831.5h1M176 831.5h1M185 831.5h1M124 835.5h1M133 835.5h1M142 835.5h1M150 835.5h1M159 835.5h1M168 835.5h1M176 835.5h1M185 835.5h1M124 840.5h1M133 840.5h1M142 840.5h1M150 840.5h1M159 840.5h1M168 840.5h1M176 840.5h1M185 840.5h1M124 844.5h1M133 844.5h1M142 844.5h1M150 844.5h1M159 844.5h1M168 844.5h1M176 844.5h1M185 844.5h1" stroke="#8c8c8c" stroke-width="1" fill="none" shape-rendering="crispEdges"/>
<path d="M190 583.5h1M199 583.5h1M208 583.5h1M216 583.5h1M225 583.5h1M234 583.5h1M242 583.5h1M251 583.5h1M190 588.5h1M199 588.5h1M208 588.5h1M216 588.5h1M225 588.5h1M234 588.5h1M242 588.5h1M251 588.5h1M190 592.5h1M199 592.5h1M208 592.5h1M216 592.5h1M225 592.5h1M234 592.5h1M242 592.5h1M251 592.5h1M190 596.5h1M199 596.5h1M208 596.5h1M216 596.5h1M225 596.5h1M234 596.5h1M242 596.5h1M251 596.5h1M190 601.5h1M199 601.5h1M208 601.5h1M216 601.5h1M225 601.5h1M234 601.5h1M242 601.5h1M251 601.5h1M190 605.5h1M199 605.5h1M208 605.5h1M216 605.5h1M225 605.5h1M234 605.5h1M242 605.5h1M251 605.5h1M190 610.5h1M199 610.5h1M208 610.5h1M216 610.5h1M225 610.5h1M234 610.5h1M242 610.5h1M251 610.5h1M190 614.5h1M199 614.5h1M208 614.5h1M216 614.5h1M225 614.5h1M234 614.5h1M242 614.5h1M251 614.5h1M190 618.5h1M199 618.5h1M208 618.5h1M216 618.5h1M225 618.5h1M234 618.5h1M242 618.5h1M251 618.5h1M190 623.5h1M199 623.5h1M208 623.5h1M216 623.5h1M225 623.5h1M234 623.5h1M242 623.5h1M251 623.5h1M190 627.5h1M199 627.5h1M208 627.5h1M216 627.5h1M225 627.5h1M234 627.5h1M242 627.5h1M251 627.5h1M190 631.5h1M199 631.5h1M208 631.5h1M216 631.5h1M225 631.5h1M234 631.5h1M242 631.5h1M251 631.5h1M190 636.5h1M199 636.5h1M208 636.5h1M216 636.5h1M225 636.5h1M234 636.5h1M242 636.5h1M251 636.5h1M190 640.5h1M199 640.5h1M208 640.5h1M216 640.5h1M225 640.5h1M234 640.5h1M242 640.5h1M251 640.5h1M190 644.5h1M199 644.5h1M208 644.5h1M216 644.5h1M225 644.5h1M234 644.5h1M242 644.5h1M251 644.5h1M190 649.5h1M199 649.5h1M208 649.5h1M216 649.5h1M225 649.5h1M234 649.5h1M242 649.5h1M251 649.5h1M190 653.5h1M199 653.5h1M208 653.5h1M216 653.5h1M225 653.5h1M234 653.5h1M242 653.5h1M251 653.5h1M190 657.5h1M199 657.5h1M208 657.5h1M216 657.5h1M225 657.5h1M234 657.5h1M242 657.5h1M251 657.5h1M190 662.5h1M199 662.5h1M208 662.5h1M216 662.5h1M225 662.5h1M234 662.5h1M242 662.5h1M251 662.5h1M190 666.5h1M199 666.5h1M208 666.5h1M216 666.5h1M225 666.5h1M234 666.5h1M242 666.5h1M251 666.5h1M190 670.5h1M199 670.5h1M208 670.5h1M216 670.5h1M225 670.5h1M234 670.5h1M242 670.5h1M251 670.5h1M190 675.5h1M199 675.5h1M208 675.5h1M216 675.5h1M225 675.5h1M234 675.5h1M242 675.5h1M251 675.5h1M190 679.5h1M199 679.5h1M208 679.5h1M216 679.5h1M225 679.5h1M234 679.5h1M242 679.5h1M251 679.5h1M190 683.5h1M199 683.5h1M208 683.5h1M216 683.5h1M225 683.5h1M234 683.5h1M242 683.5h1M251 683.5h1M190 688.5h1M199 688.5h1M208 688.5h1M216 688.5h1M225 688.5h1M234 688.5h1M242 688.5h1M251 688.5h1M190 692.5h1M199 692.5h1M208 692.5h1M216 692.5h1M225 692.5h1M234 692.5h1M242 692.5h1M251 692.5h1M190 696.5h1M199 696.5h1M208 696.5h1M216 696.5h1M225 696.5h1M234 696.5h1M242 696.5h1M251 696.5h1M190 701.5h1M199 701.5h1M208 701.5h1M216 701.5h1M225 701.5h1M234 701.5h1M242 701.5h1M251 701.5h1M190 705.5h1M199 705.5h1M208 705.5h1M216 705.5h1M225 705.5h1M234 705.5h1M242 705.5h1M251 705.5h1M190 709.5h1M199 709.5h1M208 709.5h1M216 709.5h1M225 709.5h1M234 709.5h1M242 709.5h1M251 709.5h1M190 714.5h1M199 714.5h1M208 714.5h1M216 714.5h1M225 714.5h1M234 714.5h1M242 714.5h1M251 714.5h1M190 718.5h1M199 718.5h1M208 718.5h1M216 718.5h1M225 718.5h1M234 718.5h1M242 718.5h1M251 718.5h1M190 722.5h1M199 722.5h1M208 722.5h1M216 722.5h1M225 722.5h1M234 722.5h1M242 722.5h1M251 722.5h1M190 727.5h1M199 727.5h1M208 727.5h1M216 727.5h1M225 727.5h1M234 727.5h1M242 727.5h1M251 727.5h1M190 731.5h1M199 731.5h1M208 731.5h1M216 731.5h1M225 731.5h1M234 731.5h1M242 731.5h1M251 731.5h1M190 736.5h1M199 736.5h1M208 736.5h1M216 736.5h1M225 736.5h1M234 736.5h1M242 736.5h1M251 736.5h1M190 740.5h1M199 740.5h1M208 740.5h1M216 740.5h1M225 740.5h1M234 740.5h1M242 740.5h1M251 740.5h1M190 744.5h1M199 744.5h1M208 744.5h1M216 744.5h1M225 744.5h1M234 744.5h1M242 744.5h1M251 744.5h1M190 749.5h1M199 749.5h1M208 749.5h1M216 749.5h1M225 749.5h1M234 749.5h1M242 749.5h1M251 749.5h1M190 753.5h1M199 753.5h1M208 753.5h1M216 753.5h1M225 753.5h1M234 753.5h1M242 753.5h1M251 753.5h1M190 757.5h1M199 757.5h1M208 757.5h1M216 757.5h1M225 757.5h1M234 757.5h1M242 757.5h1M251 757.5h1M190 762.5h1M199 762.5h1M208 762.5h1M216 762.5h1M225 762.5h1M234 762.5h1M242 762.5h1M251 762.5h1M190 766.5h1M199 766.5h1M208 766.5h1M216 766.5h1M225 766.5h1M234 766.5h1M242 766.5h1M251 766.5h1M190 770.5h1M199 770.5h1M208 770.5h1M216 770.5h1M225 770.5h1M234 770.5h1M242 770.5h1M251 770.5h1M190 775.5h1M199 775.5h1M208 775.5h1M216 775.5h1M225 775.5h1M234 775.5h1M242 775.5h1M251 775.5h1M190 779.5h1M199 779.5h1M208 779.5h1M216 779.5h1M225 779.5h1M234 779.5h1M242 779.5h1M251 779.5h1M190 783.5h1M199 783.5h1M208 783.5h1M216 783.5h1M225 783.5h1M234 783.5h1M242 783.5h1M251 783.5h1M190 788.5h1M199 788.5h1M208 788.5h1M216 788.5h1M225 788.5h1M234 788.5h1M242 788.5h1M251 788.5h1M190 792.5h1M199 792.5h1M208 792.5h1M216 792.5h1M225 792.5h1M234 792.5h1M242 792.5h1M251 792.5h1M190 796.5h1M199 796.5h1M208 796.5h1M216 796.5h1M225 796.5h1M234 796.5h1M242 796.5h1M251 796.5h1M190 801.5h1M199 801.5h1M208 801.5h1M216 801.5h1M225 801.5h1M234 801.5h1M242 801.5h1M251 801.5h1M190 805.5h1M199 805.5h1M208 805.5h1M216 805.5h1M225 805.5h1M234 805.5h1M242 805.5h1M251 805.5h1M190 809.5h1M199 809.5h1M208 809.5h1M216 809.5h1M225 809.5h1M234 809.5h1M242 809.5h1M251 809.5h1M190 814.5h1M199 814.5h1M208 814.5h1M216 814.5h1M225 814.5h1M234 814.5h1M242 814.5h1M251 814.5h1M190 818.5h1M199 818.5h1M208 818.5h1M216 818.5h1M225 818.5h1M234 818.5h1M242 818.5h1M251 818.5h1M190 822.5h1M199 822.5h1M208 822.5h1M216 822.5h1M225 822.5h1M234 822.5h1M242 822.5h1M251 822.5h1M190 827.5h1M199 827.5h1M208 827.5h1M216 827.5h1M225 827.5h1M234 827.5h1M242 827.5h1M251 827.5h1M190 831.5h1M199 831.5h1M208 831.5h1M216 831.5h1M225 831.5h1M234 831.5h1M242 831.5h1M251 831.5h1M190 835.5h1M199 835.5h1M208 835.5h1M216 835.5h1M225 835.5h1M234 835.5h1M242 835.5h1M251 835.5h1M190 840.5h1M199 840.5h1M208 840.5h1M216 840.5h1M225 840.5h1M234 840.5h1M242 840.5h1M251 840.5h1M190 844.5h1M199 844.5h1M208 844.5h1M216 844.5h1M225 844.5h1M234 844.5h1M242 844.5h1M251 844.5h1M195 586.5h1M203 586.5h1M212 586.5h1M221 586.5h1M229 586.5h1M238 586.5h1M247 586.5h1M256 586.5h1M195 590.5h1M203 590.5h1M212 590.5h1M221 590.5h1M229 590.5h1M238 590.5h1M247 590.5h1M256 590.5h1M195 594.5h1M203 594.5h1M212 594.5h1M221 594.5h1M229 594.5h1M238 594.5h1M247 594.5h1M256 594.5h1M195 599.5h1M203 599.5h1M212 599.5h1M221 599.5h1M229 599.5h1M238 599.5h1M247 599.5h1M256 599.5h1M195 603.5h1M203 603.5h1M212 603.5h1M221 603.5h1M229 603.5h1M238 603.5h1M247 603.5h1M256 603.5h1M195 607.5h1M203 607.5h1M212 607.5h1M221 607.5h1M229 607.5h1M238 607.5h1M247 607.5h1M256 607.5h1M195 612.5h1M203 612.5h1M212 612.5h1M221 612.5h1M229 612.5h1M238 612.5h1M247 612.5h1M256 612.5h1M195 616.5h1M203 616.5h1M212 616.5h1M221 616.5h1M229 616.5h1M238 616.5h1M247 616.5h1M256 616.5h1M195 620.5h1M203 620.5h1M212 620.5h1M221 620.5h1M229 620.5h1M238 620.5h1M247 620.5h1M256 620.5h1M195 625.5h1M203 625.5h1M212 625.5h1M221 625.5h1M229 625.5h1M238 625.5h1M247 625.5h1M256 625.5h1M195 629.5h1M203 629.5h1M212 629.5h1M221 629.5h1M229 629.5h1M238 629.5h1M247 629.5h1M256 629.5h1M195 633.5h1M203 633.5h1M212 633.5h1M221 633.5h1M229 633.5h1M238 633.5h1M247 633.5h1M256 633.5h1M195 638.5h1M203 638.5h1M212 638.5h1M221 638.5h1M229 638.5h1M238 638.5h1M247 638.5h1M256 638.5h1M195 642.5h1M203 642.5h1M212 642.5h1M221 642.5h1M229 642.5h1M238 642.5h1M247 642.5h1M256 642.5h1M195 646.5h1M203 646.5h1M212 646.5h1M221 646.5h1M229 646.5h1M238 646.5h1M247 646.5h1M256 646.5h1M195 651.5h1M203 651.5h1M212 651.5h1M221 651.5h1M229 651.5h1M238 651.5h1M247 651.5h1M256 651.5h1M195 655.5h1M203 655.5h1M212 655.5h1M221 655.5h1M229 655.5h1M238 655.5h1M247 655.5h1M256 655.5h1M195 659.5h1M203 659.5h1M212 659.5h1M221 659.5h1M229 659.5h1M238 659.5h1M247 659.5h1M256 659.5h1M195 664.5h1M203 664.5h1M212 664.5h1M221 664.5h1M229 664.5h1M238 664.5h1M247 664.5h1M256 664.5h1M195 668.5h1M203 668.5h1M212 668.5h1M221 668.5h1M229 668.5h1M238 668.5h1M247 668.5h1M256 668.5h1M195 673.5h1M203 673.5h1M212 673.5h1M221 673.5h1M229 673.5h1M238 673.5h1M247 673.5h1M256 673.5h1M195 677.5h1M203 677.5h1M212 677.5h1M221 677.5h1M229 677.5h1M238 677.5h1M247 677.5h1M256 677.5h1M195 681.5h1M203 681.5h1M212 681.5h1M221 681.5h1M229 681.5h1M238 681.5h1M247 681.5h1M256 681.5h1M195 686.5h1M203 686.5h1M212 686.5h1M221 686.5h1M229 686.5h1M238 686.5h1M247 686.5h1M256 686.5h1M195 690.5h1M203 690.5h1M212 690.5h1M221 690.5h1M229 690.5h1M238 690.5h1M247 690.5h1M256 690.5h1M195 694.5h1M203 694.5h1M212 694.5h1M221 694.5h1M229 694.5h1M238 694.5h1M247 694.5h1M256 694.5h1M195 699.5h1M203 699.5h1M212 699.5h1M221 699.5h1M229 699.5h1M238 699.5h1M247 699.5h1M256 699.5h1M195 703.5h1M203 703.5h1M212 703.5h1M221 703.5h1M229 703.5h1M238 703.5h1M247 703.5h1M256 703.5h1M195 707.5h1M203 707.5h1M212 707.5h1M221 707.5h1M229 707.5h1M238 707.5h1M247 707.5h1M256 707.5h1M195 712.5h1M203 712.5h1M212 712.5h1M221 712.5h1M229 712.5h1M238 712.5h1M247 712.5h1M256 712.5h1M195 716.5h1M203 716.5h1M212 716.5h1M221 716.5h1M229 716.5h1M238 716.5h1M247 716.5h1M256 716.5h1M195 720.5h1M203 720.5h1M212 720.5h1M221 720.5h1M229 720.5h1M238 720.5h1M247 720.5h1M256 720.5h1M195 725.5h1M203 725.5h1M212 725.5h1M221 725.5h1M229 725.5h1M238 725.5h1M247 725.5h1M256 725.5h1M195 729.5h1M203 729.5h1M212 729.5h1M221 729.5h1M229 729.5h1M238 729.5h1M247 729.5h1M256 729.5h1M195 733.5h1M203 733.5h1M212 733.5h1M221 733.5h1M229 733.5h1M238 733.5h1M247 733.5h1M256 733.5h1M195 738.5h1M203 738.5h1M212 738.5h1M221 738.5h1M229 738.5h1M238 738.5h1M247 738.5h1M256 738.5h1M195 742.5h1M203 742.5h1M212 742.5h1M221 742.5h1M229 742.5h1M238 742.5h1M247 742.5h1M256 742.5h1M195 746.5h1M203 746.5h1M212 746.5h1M221 746.5h1M229 746.5h1M238 746.5h1M247 746.5h1M256 746.5h1M195 751.5h1M203 751.5h1M212 751.5h1M221 751.5h1M229 751.5h1M238 751.5h1M247 751.5h1M256 751.5h1M195 755.5h1M203 755.5h1M212 755.5h1M221 755.5h1M229 755.5h1M238 755.5h1M247 755.5h1M256 755.5h1M195 759.5h1M203 759.5h1M212 759.5h1M221 759.5h1M229 759.5h1M238 759.5h1M247 759.5h1M256 759.5h1M195 764.5h1M203 764.5h1M212 764.5h1M221 764.5h1M229 764.5h1M238 764.5h1M247 764.5h1M256 764.5h1M195 768.5h1M203 768.5h1M212 768.5h1M221 768.5h1M229 768.5h1M238 768.5h1M247 768.5h1M256 768.5h1M195 772.5h1M203 772.5h1M212 772.5h1M221 772.5h1M229 772.5h1M238 772.5h1M247 772.5h1M256 772.5h1M195 777.5h1M203 777.5h1M212 777.5h1M221 777.5h1M229 777.5h1M238 777.5h1M247 777.5h1M256 777.5h1M195 781.5h1M203 781.5h1M212 781.5h1M221 781.5h1M229 781.5h1M238 781.5h1M247 781.5h1M256 781.5h1M195 785.5h1M203 785.5h1M212 785.5h1M221 785.5h1M229 785.5h1M238 785.5h1M247 785.5h1M256 785.5h1M195 790.5h1M203 790.5h1M212 790.5h1M221 790.5h1M229 790.5h1M238 790.5h1M247 790.5h1M256 790.5h1M195 794.5h1M203 794.5h1M212 794.5h1M221 794.5h1M229 794.5h1M238 794.5h1M247 794.5h1M256 794.5h1M195 799.5h1M203 799.5h1M212 799.5h1M221 799.5h1M229 799.5h1M238 799.5h1M247 799.5h1M256 799.5h1M195 803.5h1M203 803.5h1M212 803.5h1M221 803.5h1M229 803.5h1M238 803.5h1M247 803.5h1M256 803.5h1M195 807.5h1M203 807.5h1M212 807.5h1M221 807.5h1M229 807.5h1M238 807.5h1M247 807.5h1M256 807.5h1M195 812.5h1M203 812.5h1M212 812.5h1M221 812.5h1M229 812.5h1M238 812.5h1M247 812.5h1M256 812.5h1M195 816.5h1M203 816.5h1M212 816.5h1M221 816.5h1M229 816.5h1M238 816.5h1M247 816.5h1M256 816.5h1M195 820.5h1M203 820.5h1M212 820.5h1M221 820.5h1M229 820.5h1M238 820.5h1M247 820.5h1M256 820.5h1M195 825.5h1M203 825.5h1M212 825.5h1M221 825.5h1M229 825.5h1M238 825.5h1M247 825.5h1M256 825.5h1M195 829.5h1M203 829.5h1M212 829.5h1M221 829.5h1M229 829.5h1M238 829.5h1M247 829.5h1M256 829.5h1M195 833.5h1M203 833.5h1M212 833.5h1M221 833.5h1M229 833.5h1M238 833.5h1M247 833.5h1M256 833.5h1M195 838.5h1M203 838.5h1M212 838.5h1M221 838.5h1M229 838.5h1M238 838.5h1M247 838.5h1M256 838.5h1M195 842.5h1M203 842.5h1M212 842.5h1M221 842.5h1M229 842.5h1M238 842.5h1M247 842.5h1M256 842.5h1" stroke="#2e2e2e" stroke-width="1" fill="none" shape-rendering="crispEdges"/><path d="M186 586.5h1M186 590.5h1M186 594.5h1M186 599.5h1M186 603.5h1M186 607.5h1M186 612.5h1M186 616.5h1M186 620.5h1M186 625.5h1M186 629.5h1M186 633.5h1M186 638.5h1M186 642.5h1M186 646.5h1M186 651.5h1M186 655.5h1M186 659.5h1M186 664.5h1M186 668.5h1M186 673.5h1M186 677.5h1M186 681.5h1M186 686.5h1M186 690.5h1M186 694.5h1M186 699.5h1M186 703.5h1M186 707.5h1M186 712.5h1M186 716.5h1M186 720.5h1M186 725.5h1M186 729.5h1M186 733.5h1M186 738.5h1M186 742.5h1M186 746.5h1M186 751.5h1M186 755.5h1M186 759.5h1M186 764.5h1M186 768.5h1M186 772.5h1M186 777.5h1M186 781.5h1M186 785.5h1M186 790.5h1M186 794.5h1M186 799.5h1M186 803.5h1M186 807.5h1M186 812.5h1M186 816.5h1M186 820.5h1M186 825.5h1M186 829.5h1M186 833.5h1M186 838.5h1M186 842.5h1" stroke="#b4b4b4" stroke-width="1" fill="none" shape-rendering="crispEdges"/>
<rect x="257.90" y="601.8" width="71.30" height="245.30" fill="url(#bdiag)"/>
<path d="M333.4 614.5H337.7M342.1 614.5H346.4M350.8 614.5H355.1M359.5 614.5H363.8M368.2 614.5H372.5M376.8 614.5H381.2M385.5 614.5H389.9M394.2 614.5H398.6M333.4 623.5H337.7M342.1 623.5H346.4M350.8 623.5H355.1M359.5 623.5H363.8M368.2 623.5H372.5M376.8 623.5H381.2M385.5 623.5H389.9M394.2 623.5H398.6M333.4 631.5H337.7M342.1 631.5H346.4M350.8 631.5H355.1M359.5 631.5H363.8M368.2 631.5H372.5M376.8 631.5H381.2M385.5 631.5H389.9M394.2 631.5H398.6M333.4 640.5H337.7M342.1 640.5H346.4M350.8 640.5H355.1M359.5 640.5H363.8M368.2 640.5H372.5M376.8 640.5H381.2M385.5 640.5H389.9M394.2 640.5H398.6M333.4 649.5H337.7M342.1 649.5H346.4M350.8 649.5H355.1M359.5 649.5H363.8M368.2 649.5H372.5M376.8 649.5H381.2M385.5 649.5H389.9M394.2 649.5H398.6M333.4 657.5H337.7M342.1 657.5H346.4M350.8 657.5H355.1M359.5 657.5H363.8M368.2 657.5H372.5M376.8 657.5H381.2M385.5 657.5H389.9M394.2 657.5H398.6M333.4 666.5H337.7M342.1 666.5H346.4M350.8 666.5H355.1M359.5 666.5H363.8M368.2 666.5H372.5M376.8 666.5H381.2M385.5 666.5H389.9M394.2 666.5H398.6M333.4 675.5H337.7M342.1 675.5H346.4M350.8 675.5H355.1M359.5 675.5H363.8M368.2 675.5H372.5M376.8 675.5H381.2M385.5 675.5H389.9M394.2 675.5H398.6M333.4 684.5H337.7M342.1 684.5H346.4M350.8 684.5H355.1M359.5 684.5H363.8M368.2 684.5H372.5M376.8 684.5H381.2M385.5 684.5H389.9M394.2 684.5H398.6M333.4 692.5H337.7M342.1 692.5H346.4M350.8 692.5H355.1M359.5 692.5H363.8M368.2 692.5H372.5M376.8 692.5H381.2M385.5 692.5H389.9M394.2 692.5H398.6M333.4 701.5H337.7M342.1 701.5H346.4M350.8 701.5H355.1M359.5 701.5H363.8M368.2 701.5H372.5M376.8 701.5H381.2M385.5 701.5H389.9M394.2 701.5H398.6M333.4 710.5H337.7M342.1 710.5H346.4M350.8 710.5H355.1M359.5 710.5H363.8M368.2 710.5H372.5M376.8 710.5H381.2M385.5 710.5H389.9M394.2 710.5H398.6M333.4 718.5H337.7M342.1 718.5H346.4M350.8 718.5H355.1M359.5 718.5H363.8M368.2 718.5H372.5M376.8 718.5H381.2M385.5 718.5H389.9M394.2 718.5H398.6M333.4 727.5H337.7M342.1 727.5H346.4M350.8 727.5H355.1M359.5 727.5H363.8M368.2 727.5H372.5M376.8 727.5H381.2M385.5 727.5H389.9M394.2 727.5H398.6M333.4 736.5H337.7M342.1 736.5H346.4M350.8 736.5H355.1M359.5 736.5H363.8M368.2 736.5H372.5M376.8 736.5H381.2M385.5 736.5H389.9M394.2 736.5H398.6M333.4 744.5H337.7M342.1 744.5H346.4M350.8 744.5H355.1M359.5 744.5H363.8M368.2 744.5H372.5M376.8 744.5H381.2M385.5 744.5H389.9M394.2 744.5H398.6M333.4 753.5H337.7M342.1 753.5H346.4M350.8 753.5H355.1M359.5 753.5H363.8M368.2 753.5H372.5M376.8 753.5H381.2M385.5 753.5H389.9M394.2 753.5H398.6M333.4 762.5H337.7M342.1 762.5H346.4M350.8 762.5H355.1M359.5 762.5H363.8M368.2 762.5H372.5M376.8 762.5H381.2M385.5 762.5H389.9M394.2 762.5H398.6M333.4 770.5H337.7M342.1 770.5H346.4M350.8 770.5H355.1M359.5 770.5H363.8M368.2 770.5H372.5M376.8 770.5H381.2M385.5 770.5H389.9M394.2 770.5H398.6M333.4 779.5H337.7M342.1 779.5H346.4M350.8 779.5H355.1M359.5 779.5H363.8M368.2 779.5H372.5M376.8 779.5H381.2M385.5 779.5H389.9M394.2 779.5H398.6M333.4 788.5H337.7M342.1 788.5H346.4M350.8 788.5H355.1M359.5 788.5H363.8M368.2 788.5H372.5M376.8 788.5H381.2M385.5 788.5H389.9M394.2 788.5H398.6M333.4 796.5H337.7M342.1 796.5H346.4M350.8 796.5H355.1M359.5 796.5H363.8M368.2 796.5H372.5M376.8 796.5H381.2M385.5 796.5H389.9M394.2 796.5H398.6M333.4 805.5H337.7M342.1 805.5H346.4M350.8 805.5H355.1M359.5 805.5H363.8M368.2 805.5H372.5M376.8 805.5H381.2M385.5 805.5H389.9M394.2 805.5H398.6M333.4 814.5H337.7M342.1 814.5H346.4M350.8 814.5H355.1M359.5 814.5H363.8M368.2 814.5H372.5M376.8 814.5H381.2M385.5 814.5H389.9M394.2 814.5H398.6M333.4 823.5H337.7M342.1 823.5H346.4M350.8 823.5H355.1M359.5 823.5H363.8M368.2 823.5H372.5M376.8 823.5H381.2M385.5 823.5H389.9M394.2 823.5H398.6M333.4 831.5H337.7M342.1 831.5H346.4M350.8 831.5H355.1M359.5 831.5H363.8M368.2 831.5H372.5M376.8 831.5H381.2M385.5 831.5H389.9M394.2 831.5H398.6M333.4 840.5H337.7M342.1 840.5H346.4M350.8 840.5H355.1M359.5 840.5H363.8M368.2 840.5H372.5M376.8 840.5H381.2M385.5 840.5H389.9M394.2 840.5H398.6M329.2 618.5H333.4M337.7 618.5H342.1M346.4 618.5H350.8M355.1 618.5H359.5M363.8 618.5H368.2M372.5 618.5H376.9M381.2 618.5H385.5M389.9 618.5H394.2M398.6 618.5H399.9M329.2 627.5H333.4M337.7 627.5H342.1M346.4 627.5H350.8M355.1 627.5H359.5M363.8 627.5H368.2M372.5 627.5H376.9M381.2 627.5H385.5M389.9 627.5H394.2M398.6 627.5H399.9M329.2 636.5H333.4M337.7 636.5H342.1M346.4 636.5H350.8M355.1 636.5H359.5M363.8 636.5H368.2M372.5 636.5H376.9M381.2 636.5H385.5M389.9 636.5H394.2M398.6 636.5H399.9M329.2 644.5H333.4M337.7 644.5H342.1M346.4 644.5H350.8M355.1 644.5H359.5M363.8 644.5H368.2M372.5 644.5H376.9M381.2 644.5H385.5M389.9 644.5H394.2M398.6 644.5H399.9M329.2 653.5H333.4M337.7 653.5H342.1M346.4 653.5H350.8M355.1 653.5H359.5M363.8 653.5H368.2M372.5 653.5H376.9M381.2 653.5H385.5M389.9 653.5H394.2M398.6 653.5H399.9M329.2 662.5H333.4M337.7 662.5H342.1M346.4 662.5H350.8M355.1 662.5H359.5M363.8 662.5H368.2M372.5 662.5H376.9M381.2 662.5H385.5M389.9 662.5H394.2M398.6 662.5H399.9M329.2 670.5H333.4M337.7 670.5H342.1M346.4 670.5H350.8M355.1 670.5H359.5M363.8 670.5H368.2M372.5 670.5H376.9M381.2 670.5H385.5M389.9 670.5H394.2M398.6 670.5H399.9M329.2 679.5H333.4M337.7 679.5H342.1M346.4 679.5H350.8M355.1 679.5H359.5M363.8 679.5H368.2M372.5 679.5H376.9M381.2 679.5H385.5M389.9 679.5H394.2M398.6 679.5H399.9M329.2 688.5H333.4M337.7 688.5H342.1M346.4 688.5H350.8M355.1 688.5H359.5M363.8 688.5H368.2M372.5 688.5H376.9M381.2 688.5H385.5M389.9 688.5H394.2M398.6 688.5H399.9M329.2 697.5H333.4M337.7 697.5H342.1M346.4 697.5H350.8M355.1 697.5H359.5M363.8 697.5H368.2M372.5 697.5H376.9M381.2 697.5H385.5M389.9 697.5H394.2M398.6 697.5H399.9M329.2 705.5H333.4M337.7 705.5H342.1M346.4 705.5H350.8M355.1 705.5H359.5M363.8 705.5H368.2M372.5 705.5H376.9M381.2 705.5H385.5M389.9 705.5H394.2M398.6 705.5H399.9M329.2 714.5H333.4M337.7 714.5H342.1M346.4 714.5H350.8M355.1 714.5H359.5M363.8 714.5H368.2M372.5 714.5H376.9M381.2 714.5H385.5M389.9 714.5H394.2M398.6 714.5H399.9M329.2 723.5H333.4M337.7 723.5H342.1M346.4 723.5H350.8M355.1 723.5H359.5M363.8 723.5H368.2M372.5 723.5H376.9M381.2 723.5H385.5M389.9 723.5H394.2M398.6 723.5H399.9M329.2 731.5H333.4M337.7 731.5H342.1M346.4 731.5H350.8M355.1 731.5H359.5M363.8 731.5H368.2M372.5 731.5H376.9M381.2 731.5H385.5M389.9 731.5H394.2M398.6 731.5H399.9M329.2 740.5H333.4M337.7 740.5H342.1M346.4 740.5H350.8M355.1 740.5H359.5M363.8 740.5H368.2M372.5 740.5H376.9M381.2 740.5H385.5M389.9 740.5H394.2M398.6 740.5H399.9M329.2 749.5H333.4M337.7 749.5H342.1M346.4 749.5H350.8M355.1 749.5H359.5M363.8 749.5H368.2M372.5 749.5H376.9M381.2 749.5H385.5M389.9 749.5H394.2M398.6 749.5H399.9M329.2 757.5H333.4M337.7 757.5H342.1M346.4 757.5H350.8M355.1 757.5H359.5M363.8 757.5H368.2M372.5 757.5H376.9M381.2 757.5H385.5M389.9 757.5H394.2M398.6 757.5H399.9M329.2 766.5H333.4M337.7 766.5H342.1M346.4 766.5H350.8M355.1 766.5H359.5M363.8 766.5H368.2M372.5 766.5H376.9M381.2 766.5H385.5M389.9 766.5H394.2M398.6 766.5H399.9M329.2 775.5H333.4M337.7 775.5H342.1M346.4 775.5H350.8M355.1 775.5H359.5M363.8 775.5H368.2M372.5 775.5H376.9M381.2 775.5H385.5M389.9 775.5H394.2M398.6 775.5H399.9M329.2 783.5H333.4M337.7 783.5H342.1M346.4 783.5H350.8M355.1 783.5H359.5M363.8 783.5H368.2M372.5 783.5H376.9M381.2 783.5H385.5M389.9 783.5H394.2M398.6 783.5H399.9M329.2 792.5H333.4M337.7 792.5H342.1M346.4 792.5H350.8M355.1 792.5H359.5M363.8 792.5H368.2M372.5 792.5H376.9M381.2 792.5H385.5M389.9 792.5H394.2M398.6 792.5H399.9M329.2 801.5H333.4M337.7 801.5H342.1M346.4 801.5H350.8M355.1 801.5H359.5M363.8 801.5H368.2M372.5 801.5H376.9M381.2 801.5H385.5M389.9 801.5H394.2M398.6 801.5H399.9M329.2 810.5H333.4M337.7 810.5H342.1M346.4 810.5H350.8M355.1 810.5H359.5M363.8 810.5H368.2M372.5 810.5H376.9M381.2 810.5H385.5M389.9 810.5H394.2M398.6 810.5H399.9M329.2 818.5H333.4M337.7 818.5H342.1M346.4 818.5H350.8M355.1 818.5H359.5M363.8 818.5H368.2M372.5 818.5H376.9M381.2 818.5H385.5M389.9 818.5H394.2M398.6 818.5H399.9M329.2 827.5H333.4M337.7 827.5H342.1M346.4 827.5H350.8M355.1 827.5H359.5M363.8 827.5H368.2M372.5 827.5H376.9M381.2 827.5H385.5M389.9 827.5H394.2M398.6 827.5H399.9M329.2 836.5H333.4M337.7 836.5H342.1M346.4 836.5H350.8M355.1 836.5H359.5M363.8 836.5H368.2M372.5 836.5H376.9M381.2 836.5H385.5M389.9 836.5H394.2M398.6 836.5H399.9M329.2 844.5H333.4M337.7 844.5H342.1M346.4 844.5H350.8M355.1 844.5H359.5M363.8 844.5H368.2M372.5 844.5H376.9M381.2 844.5H385.5M389.9 844.5H394.2M398.6 844.5H399.9" stroke="#2c2c2c" stroke-width="1.55" fill="none"/>
<rect x="399.90" y="638.7" width="70.60" height="208.40" fill="url(#bweave)"/>
<rect x="470.50" y="638.7" width="71.90" height="208.40" fill="url(#bdmnd)" filter="url(#soft)"/>
<rect x="542.40" y="639.2" width="72.50" height="207.90" fill="url(#bwave)"/>
<rect x="614.90" y="637.1" width="69.90" height="210.00" fill="url(#bvert)"/>
<path d="M63.1 536.1V851.5M59.300000000000004 847.1H737.5V851.5" stroke="#707070" stroke-width="1.4" fill="none"/>
<text transform="translate(50.5 852.00) scale(0.94 1)" font-family="'Liberation Sans', sans-serif" font-size="15.0" font-weight="bold" text-anchor="end" stroke="#111" stroke-width="0.3">0</text>
<path d="M59.300000000000004 784.96H63.1" stroke="#707070" stroke-width="1.4"/>
<text transform="translate(50.5 789.86) scale(0.94 1)" font-family="'Liberation Sans', sans-serif" font-size="15.0" font-weight="bold" text-anchor="end" stroke="#111" stroke-width="0.3">20</text>
<path d="M59.300000000000004 722.82H63.1" stroke="#707070" stroke-width="1.4"/>
<text transform="translate(50.5 727.72) scale(0.94 1)" font-family="'Liberation Sans', sans-serif" font-size="15.0" font-weight="bold" text-anchor="end" stroke="#111" stroke-width="0.3">40</text>
<path d="M59.300000000000004 660.68H63.1" stroke="#707070" stroke-width="1.4"/>
<text transform="translate(50.5 665.58) scale(0.94 1)" font-family="'Liberation Sans', sans-serif" font-size="15.0" font-weight="bold" text-anchor="end" stroke="#111" stroke-width="0.3">60</text>
<path d="M59.300000000000004 598.54H63.1" stroke="#707070" stroke-width="1.4"/>
<text transform="translate(50.5 603.44) scale(0.94 1)" font-family="'Liberation Sans', sans-serif" font-size="15.0" font-weight="bold" text-anchor="end" stroke="#111" stroke-width="0.3">80</text>
<path d="M59.300000000000004 536.40H63.1" stroke="#707070" stroke-width="1.4"/>
<text transform="translate(50.5 541.30) scale(0.94 1)" font-family="'Liberation Sans', sans-serif" font-size="15.0" font-weight="bold" text-anchor="end" stroke="#111" stroke-width="0.3">100</text>
<text transform="translate(26 683.2) rotate(-90)" font-family="'Liberation Sans', sans-serif" font-size="16.2" font-weight="bold" text-anchor="middle" stroke="#111" stroke-width="0.3">Water content&#160;&#160;(% )</text>
<path d="M151.2 619.9V635.0M146.7 619.9H155.7" stroke="#0a0a0a" stroke-width="1.4" fill="none"/>
<path d="M222.8 570.5V595.3M218.3 570.5H227.3M218.3 595.3H227.3" stroke="#0a0a0a" stroke-width="1.4" fill="none"/>
<path d="M293.5 590.5V612.2M289.0 590.5H298.0M289.0 612.2H298.0" stroke="#0a0a0a" stroke-width="1.4" fill="none"/>
<path d="M364.6 600.9V626.9M360.1 600.9H369.1M360.1 626.9H369.1" stroke="#0a0a0a" stroke-width="1.4" fill="none"/>
<path d="M435.4 628.2V647.75M430.9 628.2H439.9M430.9 647.75H439.9" stroke="#0a0a0a" stroke-width="1.4" fill="none"/>
<path d="M506.6 629.0V647.75M502.1 629.0H511.1M502.1 647.75H511.1" stroke="#0a0a0a" stroke-width="1.4" fill="none"/>
<path d="M577.8 630.4V647.4M573.3 630.4H582.3M573.3 647.4H582.3" stroke="#0a0a0a" stroke-width="1.4" fill="none"/>
<path d="M648.8 627.4V647.1M644.3 627.4H653.3M644.3 647.1H653.3" stroke="#0a0a0a" stroke-width="1.4" fill="none"/>
<text transform="translate(152.4 610.6) scale(0.99 1)" font-family="'Liberation Sans', sans-serif" font-size="14.2" font-weight="normal" text-anchor="middle" stroke="#111" stroke-width="0.4">#c</text>
<text transform="translate(219.8 562.8) scale(0.99 1)" font-family="'Liberation Sans', sans-serif" font-size="14.2" font-weight="normal" text-anchor="middle" stroke="#111" stroke-width="0.4">*a</text>
<text transform="translate(293.7 583.1) scale(0.99 1)" font-family="'Liberation Sans', sans-serif" font-size="14.2" font-weight="normal" text-anchor="middle" stroke="#111" stroke-width="0.4">*#b</text>
<text transform="translate(364.0 592.5) scale(0.99 1)" font-family="'Liberation Sans', sans-serif" font-size="14.2" font-weight="normal" text-anchor="middle" stroke="#111" stroke-width="0.4">*#b</text>
<text transform="translate(437.7 622.9) scale(0.99 1)" font-family="'Liberation Sans', sans-serif" font-size="14.2" font-weight="normal" text-anchor="middle" stroke="#111" stroke-width="0.4">#c</text>
<text transform="translate(507.5 622.3) scale(0.99 1)" font-family="'Liberation Sans', sans-serif" font-size="14.2" font-weight="normal" text-anchor="middle" stroke="#111" stroke-width="0.4">#c</text>
<text transform="translate(578.9 624.1) scale(0.99 1)" font-family="'Liberation Sans', sans-serif" font-size="14.2" font-weight="normal" text-anchor="middle" stroke="#111" stroke-width="0.4">#c</text>
<text transform="translate(649.2 617.1) scale(0.99 1)" font-family="'Liberation Sans', sans-serif" font-size="14.2" font-weight="normal" text-anchor="middle" stroke="#111" stroke-width="0.4">#c</text>
<svg x="41.90" y="866.70" width="7.40" height="7.00" viewBox="0 0 7.40 7.00" overflow="hidden"><rect width="7.4" height="7.0" fill="#000"/><rect x="3.85" y="3.15" width="1.1" height="1.1" fill="#8c8c8c"/><rect x="-0.35" y="1.05" width="1.1" height="1.1" fill="#8c8c8c"/><rect x="-0.35" y="5.35" width="1.1" height="1.1" fill="#8c8c8c"/></svg>
<text transform="translate(52.2 875.20) scale(0.9375 1)" font-family="'Liberation Sans', sans-serif" font-size="15.1" font-weight="bold" text-anchor="start" stroke="#111" stroke-width="0.3">Control</text>
<svg x="393.50" y="866.70" width="7.40" height="7.30" viewBox="0 0 7.40 7.30" overflow="hidden"><rect x="0.40" y="2.00" width="1.2" height="1.2" fill="#454545"/><rect x="0.40" y="5.90" width="1.2" height="1.2" fill="#454545"/><rect x="4.80" y="3.80" width="1.2" height="1.2" fill="#454545"/><rect x="4.80" y="-0.20" width="1.2" height="1.2" fill="#454545"/></svg>
<text transform="translate(403.6 875.20) scale(0.9375 1)" font-family="'Liberation Sans', sans-serif" font-size="15.1" font-weight="bold" text-anchor="start" stroke="#111" stroke-width="0.3">I/R control</text>
<svg x="41.90" y="886.30" width="7.40" height="7.30" viewBox="0 0 7.40 7.30" overflow="hidden"><path d="M0 0.1H3.9L0 3.2Z" fill="#000"/><path d="M0 9.8L9.8 0" stroke="#000" stroke-width="2.35"/><path d="M7.5 7.4L7.5 4.6L4.9 7.4Z" fill="#fff"/></svg>
<text transform="translate(52.2 894.80) scale(0.9375 1)" font-family="'Liberation Sans', sans-serif" font-size="15.1" font-weight="bold" text-anchor="start" stroke="#111" stroke-width="0.3">6-Shogaol (25 mg/Kg) + I/R</text>
<svg x="393.50" y="886.30" width="7.40" height="7.30" viewBox="0 0 7.40 7.30" overflow="hidden"><rect x="0.3" y="5.6" width="4.2" height="1.2" fill="#222"/><rect x="4.5" y="1.3" width="3.1" height="1.1" fill="#777"/></svg>
<text transform="translate(403.6 894.80) scale(0.9375 1)" font-family="'Liberation Sans', sans-serif" font-size="15.1" font-weight="bold" text-anchor="start" stroke="#111" stroke-width="0.3">6-Shogaol (50 mg/Kg) + I/R</text>
<svg x="41.90" y="905.90" width="7.40" height="7.30" viewBox="0 0 7.40 7.30" overflow="hidden"><rect width="7.4" height="7.3" fill="#a8a8a8"/><path d="M7.6 2.4L7.6 7.5L3.0 7.5Z" fill="#6a6a6a"/><path d="M6.6 0.2L7.6 0.2L7.6 1.8L2.6 7.4L1.2 7.4Z" fill="#fff"/><path d="M0.3 0.3L1.2 0.3L3.4 2.6L2.4 3.4L0.3 1.2Z" fill="#f4f4f4"/><path d="M0.4 2.3L2.1 4.3L4.9 0.9" stroke="#222" stroke-width="1.0" fill="none"/><path d="M0.2 6.9H4.2" stroke="#2a2a2a" stroke-width="1.0" stroke-dasharray="1 0.7" fill="none"/></svg>
<text transform="translate(52.2 914.40) scale(0.9375 1)" font-family="'Liberation Sans', sans-serif" font-size="15.1" font-weight="bold" text-anchor="start" stroke="#111" stroke-width="0.3">6-Shogaol (50 mg/Kg)</text>
<svg x="393.50" y="905.90" width="7.40" height="7.30" viewBox="0 0 7.40 7.30" overflow="hidden"><path d="M-0.6 -0.7000000000000002L4.3 3.3L-0.6 7.3Z" fill="#000"/><path d="M7.9 0.2999999999999998L4.300000000000001 3.3L7.9 6.3Z" fill="#000"/></svg>
<text transform="translate(403.6 914.40) scale(0.9375 1)" font-family="'Liberation Sans', sans-serif" font-size="15.1" font-weight="bold" text-anchor="start" stroke="#111" stroke-width="0.3">I/R + Sevoflurane (2.5%)</text>
<svg x="41.90" y="925.60" width="7.40" height="7.30" viewBox="0 0 7.40 7.30" overflow="hidden"><path d="M0.2 3.7L1.9 5.0Q3.2 4.6 4.2 3.4T5.6 2.8L7.1 4.2" stroke="#222" stroke-width="1.0" fill="none" stroke-linecap="round" stroke-linejoin="round"/><path d="M1.2 0.9H2.8" stroke="#333" stroke-width="0.9" stroke-linecap="round"/><path d="M4.4 7.0H6.1" stroke="#222" stroke-width="1.0" stroke-linecap="round"/></svg>
<text transform="translate(52.2 934.10) scale(0.9375 1)" font-family="'Liberation Sans', sans-serif" font-size="15.1" font-weight="bold" text-anchor="start" stroke="#111" stroke-width="0.3">6-Shogaol (25 mg/Kg) + I/R + Sevoflurane (2.5%)</text>
<svg x="393.50" y="925.60" width="7.40" height="7.30" viewBox="0 0 7.40 7.30" overflow="hidden"><rect x="0.2" y="0" width="2.8" height="7.3" fill="#000"/><rect x="5.0" y="0" width="2.6" height="7.3" fill="#000"/></svg>
<text transform="translate(403.6 934.10) scale(0.9375 1)" font-family="'Liberation Sans', sans-serif" font-size="15.1" font-weight="bold" text-anchor="start" stroke="#111" stroke-width="0.3">6-Shogaol (50 mg/Kg) + I/R + Sevoflurane (2.5%)</text>
</svg>
</body></html>
